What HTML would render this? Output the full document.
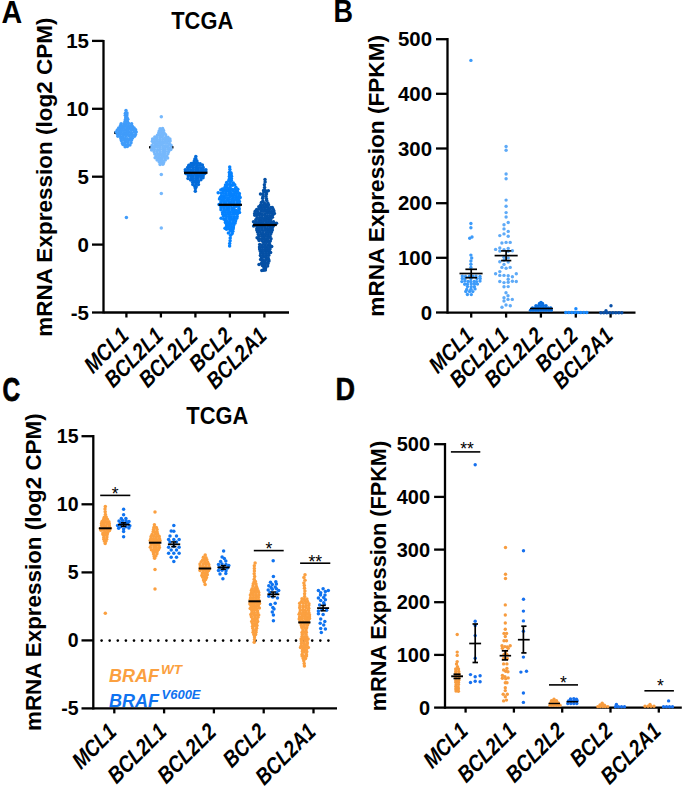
<!DOCTYPE html><html><head><meta charset="utf-8"><style>html,body{margin:0;padding:0;background:#fff;}svg{display:block;}text{font-family:"Liberation Sans", sans-serif;}</style></head><body>
<svg width="685" height="790" viewBox="0 0 685 790">
<rect width="685" height="790" fill="#fff"/>
<text x="0" y="0" font-size="31.5" font-weight="bold" text-anchor="start" fill="#000" transform="translate(1.5 22.8) scale(0.91 1.0)">A</text>
<text x="0" y="0" font-size="24.7" font-weight="bold" text-anchor="middle" fill="#000" transform="translate(202.2 28.9) scale(0.885 1.0)">TCGA</text>
<text x="51.6" y="177.2" font-size="22.5" font-weight="bold" font-style="normal" text-anchor="middle" fill="#000" transform="rotate(-90 51.6 177.2)">mRNA Expression (log2 CPM)</text>
<line x1="114" y1="132.7" x2="117" y2="132.7" stroke="#000" stroke-width="2.3"/>
<line x1="149" y1="147.3" x2="152" y2="147.3" stroke="#000" stroke-width="2.3"/>
<line x1="170.5" y1="147.3" x2="173.5" y2="147.3" stroke="#000" stroke-width="2.3"/>
<g fill="#409cfa"><circle cx="126" cy="110.5" r="1.75"/><circle cx="125.4" cy="113.3" r="1.75"/><circle cx="127" cy="112.9" r="1.75"/><circle cx="125.3" cy="115.3" r="1.75"/><circle cx="126.9" cy="115.1" r="1.75"/><circle cx="125.8" cy="117.2" r="1.75"/><circle cx="127" cy="117.5" r="1.75"/><circle cx="125.4" cy="119.5" r="1.75"/><circle cx="127.8" cy="119.2" r="1.75"/><circle cx="125" cy="121.4" r="1.75"/><circle cx="127.4" cy="121.5" r="1.75"/><circle cx="121.1" cy="123.8" r="1.75"/><circle cx="124" cy="123.7" r="1.75"/><circle cx="126.4" cy="123.4" r="1.75"/><circle cx="128.6" cy="123.5" r="1.75"/><circle cx="131.6" cy="123.7" r="1.75"/><circle cx="120.4" cy="125.8" r="1.75"/><circle cx="122.6" cy="126.1" r="1.75"/><circle cx="125.3" cy="125.7" r="1.75"/><circle cx="127.7" cy="125.9" r="1.75"/><circle cx="130.3" cy="126" r="1.75"/><circle cx="132.3" cy="126.2" r="1.75"/><circle cx="118.7" cy="128.1" r="1.75"/><circle cx="121.1" cy="127.9" r="1.75"/><circle cx="123.5" cy="128.1" r="1.75"/><circle cx="126.6" cy="128" r="1.75"/><circle cx="129.2" cy="127.8" r="1.75"/><circle cx="131.6" cy="128" r="1.75"/><circle cx="134.1" cy="127.9" r="1.75"/><circle cx="117.3" cy="130" r="1.75"/><circle cx="119.8" cy="129.7" r="1.75"/><circle cx="122.5" cy="130.2" r="1.75"/><circle cx="125.4" cy="130.3" r="1.75"/><circle cx="127.6" cy="130" r="1.75"/><circle cx="130.6" cy="129.7" r="1.75"/><circle cx="133.1" cy="129.8" r="1.75"/><circle cx="135.6" cy="129.7" r="1.75"/><circle cx="116.1" cy="132" r="1.75"/><circle cx="118.8" cy="132.4" r="1.75"/><circle cx="121.1" cy="132.1" r="1.75"/><circle cx="123.9" cy="132.4" r="1.75"/><circle cx="126.6" cy="132.4" r="1.75"/><circle cx="128.7" cy="132.1" r="1.75"/><circle cx="131.3" cy="132.4" r="1.75"/><circle cx="134.2" cy="131.9" r="1.75"/><circle cx="136.2" cy="132" r="1.75"/><circle cx="117.5" cy="134.3" r="1.75"/><circle cx="119.9" cy="133.9" r="1.75"/><circle cx="122.5" cy="134.2" r="1.75"/><circle cx="125.2" cy="134.6" r="1.75"/><circle cx="127.8" cy="134.3" r="1.75"/><circle cx="130.3" cy="134.4" r="1.75"/><circle cx="132.4" cy="134.5" r="1.75"/><circle cx="135.5" cy="134.5" r="1.75"/><circle cx="117.9" cy="136.3" r="1.75"/><circle cx="120.5" cy="136.4" r="1.75"/><circle cx="123.3" cy="136" r="1.75"/><circle cx="126.2" cy="136.1" r="1.75"/><circle cx="129.1" cy="136" r="1.75"/><circle cx="131.7" cy="136.1" r="1.75"/><circle cx="134.5" cy="136.3" r="1.75"/><circle cx="120.8" cy="138.5" r="1.75"/><circle cx="122.6" cy="138.3" r="1.75"/><circle cx="125.1" cy="138.4" r="1.75"/><circle cx="127.3" cy="138.7" r="1.75"/><circle cx="130.3" cy="138.4" r="1.75"/><circle cx="132.3" cy="138.2" r="1.75"/><circle cx="121.4" cy="140.4" r="1.75"/><circle cx="124.2" cy="140.3" r="1.75"/><circle cx="126.1" cy="140.9" r="1.75"/><circle cx="128.9" cy="140.3" r="1.75"/><circle cx="131.3" cy="140.2" r="1.75"/><circle cx="122.3" cy="142.9" r="1.75"/><circle cx="125.1" cy="142.5" r="1.75"/><circle cx="127.8" cy="142.4" r="1.75"/><circle cx="131" cy="142.7" r="1.75"/><circle cx="123" cy="144.6" r="1.75"/><circle cx="125.5" cy="145.1" r="1.75"/><circle cx="127.7" cy="145" r="1.75"/><circle cx="129.9" cy="144.9" r="1.75"/><circle cx="125.1" cy="146.7" r="1.75"/><circle cx="127.3" cy="146.5" r="1.75"/></g>
<g fill="#409cfa"><circle cx="126.4" cy="217.4" r="1.75"/></g>
<g fill="#76b8fc"><circle cx="160.1" cy="128.8" r="1.75"/><circle cx="162.6" cy="128.6" r="1.75"/><circle cx="159.2" cy="131.1" r="1.75"/><circle cx="161.2" cy="130.6" r="1.75"/><circle cx="163.5" cy="130.5" r="1.75"/><circle cx="158.7" cy="133.1" r="1.75"/><circle cx="161.5" cy="132.8" r="1.75"/><circle cx="164.1" cy="133.1" r="1.75"/><circle cx="157.4" cy="135.2" r="1.75"/><circle cx="160.1" cy="135.1" r="1.75"/><circle cx="162.6" cy="134.7" r="1.75"/><circle cx="165.6" cy="134.8" r="1.75"/><circle cx="154.8" cy="137" r="1.75"/><circle cx="157.1" cy="137.4" r="1.75"/><circle cx="160.1" cy="136.8" r="1.75"/><circle cx="162.4" cy="136.8" r="1.75"/><circle cx="165.7" cy="137.3" r="1.75"/><circle cx="167.9" cy="137.3" r="1.75"/><circle cx="152.6" cy="139" r="1.75"/><circle cx="155.1" cy="138.9" r="1.75"/><circle cx="157.2" cy="139.5" r="1.75"/><circle cx="160.1" cy="139.2" r="1.75"/><circle cx="162.9" cy="139.1" r="1.75"/><circle cx="165.3" cy="139.4" r="1.75"/><circle cx="167.4" cy="139" r="1.75"/><circle cx="169.9" cy="139" r="1.75"/><circle cx="152.3" cy="141.2" r="1.75"/><circle cx="154.7" cy="141.5" r="1.75"/><circle cx="157.4" cy="141.2" r="1.75"/><circle cx="160.1" cy="141.5" r="1.75"/><circle cx="162.5" cy="141.5" r="1.75"/><circle cx="165.1" cy="141.3" r="1.75"/><circle cx="167.6" cy="140.9" r="1.75"/><circle cx="170.1" cy="141" r="1.75"/><circle cx="153.3" cy="143.1" r="1.75"/><circle cx="155.8" cy="143.5" r="1.75"/><circle cx="158.6" cy="143.2" r="1.75"/><circle cx="161.3" cy="143.4" r="1.75"/><circle cx="164.2" cy="143.1" r="1.75"/><circle cx="166.8" cy="143.2" r="1.75"/><circle cx="169.4" cy="143.5" r="1.75"/><circle cx="152" cy="145.6" r="1.75"/><circle cx="154.9" cy="145.4" r="1.75"/><circle cx="157.4" cy="145.5" r="1.75"/><circle cx="160" cy="145.6" r="1.75"/><circle cx="162.6" cy="145.5" r="1.75"/><circle cx="165.3" cy="145.8" r="1.75"/><circle cx="168.1" cy="145.7" r="1.75"/><circle cx="171" cy="145.3" r="1.75"/><circle cx="152" cy="147.8" r="1.75"/><circle cx="154.2" cy="147.3" r="1.75"/><circle cx="157.1" cy="147.3" r="1.75"/><circle cx="159.7" cy="147.3" r="1.75"/><circle cx="162.8" cy="147.7" r="1.75"/><circle cx="165.7" cy="147.3" r="1.75"/><circle cx="168.3" cy="147.7" r="1.75"/><circle cx="170.7" cy="147.8" r="1.75"/><circle cx="151.6" cy="150" r="1.75"/><circle cx="154.5" cy="149.6" r="1.75"/><circle cx="157.6" cy="149.9" r="1.75"/><circle cx="159.7" cy="149.6" r="1.75"/><circle cx="162.7" cy="149.5" r="1.75"/><circle cx="165.1" cy="149.5" r="1.75"/><circle cx="168.2" cy="149.3" r="1.75"/><circle cx="170.8" cy="149.6" r="1.75"/><circle cx="154.1" cy="151.8" r="1.75"/><circle cx="157" cy="151.4" r="1.75"/><circle cx="160.2" cy="152" r="1.75"/><circle cx="163.1" cy="151.5" r="1.75"/><circle cx="165.4" cy="151.4" r="1.75"/><circle cx="168.6" cy="151.6" r="1.75"/><circle cx="154.8" cy="154.1" r="1.75"/><circle cx="157.6" cy="153.7" r="1.75"/><circle cx="159.8" cy="154.1" r="1.75"/><circle cx="162.6" cy="154" r="1.75"/><circle cx="164.9" cy="153.5" r="1.75"/><circle cx="167.9" cy="153.8" r="1.75"/><circle cx="156.1" cy="156" r="1.75"/><circle cx="158.7" cy="155.7" r="1.75"/><circle cx="161.5" cy="155.6" r="1.75"/><circle cx="164.3" cy="155.9" r="1.75"/><circle cx="166.7" cy="156" r="1.75"/><circle cx="155.1" cy="157.8" r="1.75"/><circle cx="157.7" cy="157.9" r="1.75"/><circle cx="159.8" cy="157.8" r="1.75"/><circle cx="162.2" cy="157.8" r="1.75"/><circle cx="164.8" cy="157.9" r="1.75"/><circle cx="167.6" cy="157.9" r="1.75"/><circle cx="157.1" cy="160" r="1.75"/><circle cx="159.6" cy="160" r="1.75"/><circle cx="162.3" cy="160.3" r="1.75"/><circle cx="165.3" cy="159.9" r="1.75"/><circle cx="159.2" cy="162" r="1.75"/><circle cx="161.5" cy="162.2" r="1.75"/><circle cx="163.7" cy="162.5" r="1.75"/><circle cx="160.1" cy="164.5" r="1.75"/><circle cx="162.9" cy="164.2" r="1.75"/></g>
<g fill="#76b8fc"><circle cx="161.3" cy="116.7" r="1.75"/><circle cx="161.3" cy="174.4" r="1.75"/><circle cx="161.3" cy="193.6" r="1.75"/><circle cx="161.3" cy="228" r="1.75"/></g>
<g fill="#056cda"><circle cx="195.8" cy="156.4" r="1.75"/><circle cx="194.9" cy="159" r="1.75"/><circle cx="195.9" cy="158.9" r="1.75"/><circle cx="194.3" cy="161.1" r="1.75"/><circle cx="196.9" cy="161" r="1.75"/><circle cx="191.2" cy="163.5" r="1.75"/><circle cx="193.1" cy="163.2" r="1.75"/><circle cx="195.5" cy="163.3" r="1.75"/><circle cx="197.7" cy="163.3" r="1.75"/><circle cx="200.1" cy="163.7" r="1.75"/><circle cx="188.8" cy="165.3" r="1.75"/><circle cx="191.8" cy="165.3" r="1.75"/><circle cx="194.1" cy="165.1" r="1.75"/><circle cx="196.9" cy="165.4" r="1.75"/><circle cx="199.7" cy="165.2" r="1.75"/><circle cx="202.4" cy="165.1" r="1.75"/><circle cx="187.6" cy="167.5" r="1.75"/><circle cx="190.2" cy="167.2" r="1.75"/><circle cx="192.9" cy="167.4" r="1.75"/><circle cx="195.7" cy="167.6" r="1.75"/><circle cx="198.3" cy="167.7" r="1.75"/><circle cx="200.9" cy="167.8" r="1.75"/><circle cx="203.2" cy="167.4" r="1.75"/><circle cx="185.3" cy="169.8" r="1.75"/><circle cx="188.2" cy="169.3" r="1.75"/><circle cx="190.8" cy="169.9" r="1.75"/><circle cx="193.2" cy="169.8" r="1.75"/><circle cx="195.8" cy="169.4" r="1.75"/><circle cx="198.1" cy="169.7" r="1.75"/><circle cx="200.8" cy="169.9" r="1.75"/><circle cx="203.3" cy="169.7" r="1.75"/><circle cx="205.9" cy="169.8" r="1.75"/><circle cx="185.5" cy="171.4" r="1.75"/><circle cx="187.9" cy="171.7" r="1.75"/><circle cx="190.3" cy="172" r="1.75"/><circle cx="193.2" cy="171.8" r="1.75"/><circle cx="195.7" cy="171.9" r="1.75"/><circle cx="198.1" cy="171.4" r="1.75"/><circle cx="200.8" cy="171.9" r="1.75"/><circle cx="203.1" cy="171.8" r="1.75"/><circle cx="205.7" cy="171.4" r="1.75"/><circle cx="185.8" cy="173.6" r="1.75"/><circle cx="188.6" cy="174" r="1.75"/><circle cx="191.3" cy="174" r="1.75"/><circle cx="194.6" cy="173.8" r="1.75"/><circle cx="196.9" cy="173.8" r="1.75"/><circle cx="199.8" cy="174" r="1.75"/><circle cx="202.5" cy="173.9" r="1.75"/><circle cx="204.9" cy="173.6" r="1.75"/><circle cx="188.2" cy="175.8" r="1.75"/><circle cx="190.6" cy="175.6" r="1.75"/><circle cx="192.8" cy="175.8" r="1.75"/><circle cx="195.7" cy="176.1" r="1.75"/><circle cx="198.3" cy="175.8" r="1.75"/><circle cx="200.7" cy="175.9" r="1.75"/><circle cx="203.2" cy="175.7" r="1.75"/><circle cx="188" cy="178.4" r="1.75"/><circle cx="191" cy="177.7" r="1.75"/><circle cx="193.1" cy="178.3" r="1.75"/><circle cx="195.9" cy="178" r="1.75"/><circle cx="197.9" cy="177.8" r="1.75"/><circle cx="200.8" cy="177.8" r="1.75"/><circle cx="203" cy="177.8" r="1.75"/><circle cx="190.6" cy="179.9" r="1.75"/><circle cx="193.2" cy="180.2" r="1.75"/><circle cx="195.9" cy="180.3" r="1.75"/><circle cx="198.1" cy="180.4" r="1.75"/><circle cx="200.9" cy="179.8" r="1.75"/><circle cx="192.7" cy="182.2" r="1.75"/><circle cx="195.5" cy="182" r="1.75"/><circle cx="198.4" cy="182.1" r="1.75"/><circle cx="192.8" cy="184.5" r="1.75"/><circle cx="195.8" cy="184.1" r="1.75"/><circle cx="198.4" cy="184.5" r="1.75"/><circle cx="194.8" cy="186.4" r="1.75"/><circle cx="196.2" cy="186.8" r="1.75"/><circle cx="195.4" cy="188.5" r="1.75"/><circle cx="195.3" cy="191.2" r="1.75"/></g>
<g fill="#0582ff"><circle cx="229.7" cy="166.9" r="1.75"/><circle cx="229.9" cy="169.6" r="1.75"/><circle cx="229.3" cy="172.4" r="1.75"/><circle cx="230.9" cy="172.7" r="1.75"/><circle cx="229.6" cy="174.8" r="1.75"/><circle cx="231.2" cy="174.1" r="1.75"/><circle cx="229.3" cy="176.4" r="1.75"/><circle cx="231.5" cy="176.3" r="1.75"/><circle cx="229.3" cy="179" r="1.75"/><circle cx="231.4" cy="178.5" r="1.75"/><circle cx="228.8" cy="180.5" r="1.75"/><circle cx="231.4" cy="180.6" r="1.75"/><circle cx="226.7" cy="182.6" r="1.75"/><circle cx="230.1" cy="182.6" r="1.75"/><circle cx="233.3" cy="182.9" r="1.75"/><circle cx="225.5" cy="185" r="1.75"/><circle cx="227.7" cy="184.6" r="1.75"/><circle cx="230.5" cy="184.7" r="1.75"/><circle cx="232.6" cy="185.2" r="1.75"/><circle cx="234.7" cy="184.8" r="1.75"/><circle cx="225" cy="187.3" r="1.75"/><circle cx="227.2" cy="187.2" r="1.75"/><circle cx="230.2" cy="187.1" r="1.75"/><circle cx="235.9" cy="187.3" r="1.75"/><circle cx="222.5" cy="188.9" r="1.75"/><circle cx="225.4" cy="189.5" r="1.75"/><circle cx="227.8" cy="189.3" r="1.75"/><circle cx="230.2" cy="188.8" r="1.75"/><circle cx="232.5" cy="189.4" r="1.75"/><circle cx="235" cy="188.9" r="1.75"/><circle cx="237.8" cy="189.3" r="1.75"/><circle cx="220.8" cy="189.9" r="1.75"/><circle cx="223" cy="190.9" r="1.75"/><circle cx="225.6" cy="191.1" r="1.75"/><circle cx="228" cy="191.1" r="1.75"/><circle cx="230.2" cy="190.9" r="1.75"/><circle cx="232.8" cy="190.9" r="1.75"/><circle cx="235.4" cy="191.4" r="1.75"/><circle cx="237.4" cy="191.2" r="1.75"/><circle cx="221.3" cy="193.3" r="1.75"/><circle cx="223.4" cy="193.2" r="1.75"/><circle cx="226" cy="193.3" r="1.75"/><circle cx="229.1" cy="193.1" r="1.75"/><circle cx="231.3" cy="193.6" r="1.75"/><circle cx="234.2" cy="193.4" r="1.75"/><circle cx="236.6" cy="193.6" r="1.75"/><circle cx="239.3" cy="193.6" r="1.75"/><circle cx="218.2" cy="192.8" r="1.75"/><circle cx="221.5" cy="195.7" r="1.75"/><circle cx="224.2" cy="195.8" r="1.75"/><circle cx="226.4" cy="195.2" r="1.75"/><circle cx="229.1" cy="195.1" r="1.75"/><circle cx="231.3" cy="195.4" r="1.75"/><circle cx="233.6" cy="195.1" r="1.75"/><circle cx="236.2" cy="195.8" r="1.75"/><circle cx="239.1" cy="195.2" r="1.75"/><circle cx="220.3" cy="197.2" r="1.75"/><circle cx="222.7" cy="197.8" r="1.75"/><circle cx="225.2" cy="197.8" r="1.75"/><circle cx="227.7" cy="197.8" r="1.75"/><circle cx="229.9" cy="197.2" r="1.75"/><circle cx="233" cy="197.4" r="1.75"/><circle cx="235.4" cy="197.4" r="1.75"/><circle cx="237.9" cy="197.6" r="1.75"/><circle cx="240.2" cy="197.4" r="1.75"/><circle cx="221.9" cy="199.7" r="1.75"/><circle cx="223.7" cy="199.5" r="1.75"/><circle cx="226.8" cy="200" r="1.75"/><circle cx="228.8" cy="199.6" r="1.75"/><circle cx="231.7" cy="199.4" r="1.75"/><circle cx="234.1" cy="199.9" r="1.75"/><circle cx="236.4" cy="199.5" r="1.75"/><circle cx="238.7" cy="199.8" r="1.75"/><circle cx="219.5" cy="199.1" r="1.75"/><circle cx="220.9" cy="201.8" r="1.75"/><circle cx="223.5" cy="201.5" r="1.75"/><circle cx="226.3" cy="201.5" r="1.75"/><circle cx="229.2" cy="202.1" r="1.75"/><circle cx="231.3" cy="201.7" r="1.75"/><circle cx="234" cy="201.8" r="1.75"/><circle cx="237" cy="201.9" r="1.75"/><circle cx="239.4" cy="201.6" r="1.75"/><circle cx="220.8" cy="203.7" r="1.75"/><circle cx="224" cy="203.6" r="1.75"/><circle cx="226.1" cy="203.7" r="1.75"/><circle cx="229" cy="203.6" r="1.75"/><circle cx="231.2" cy="203.5" r="1.75"/><circle cx="233.9" cy="203.8" r="1.75"/><circle cx="237" cy="203.7" r="1.75"/><circle cx="239.4" cy="204.1" r="1.75"/><circle cx="219" cy="204.4" r="1.75"/><circle cx="221.2" cy="206.3" r="1.75"/><circle cx="223.7" cy="206" r="1.75"/><circle cx="226.2" cy="205.7" r="1.75"/><circle cx="228.7" cy="206" r="1.75"/><circle cx="231.3" cy="205.6" r="1.75"/><circle cx="234.3" cy="205.7" r="1.75"/><circle cx="236.6" cy="206.2" r="1.75"/><circle cx="239.1" cy="205.7" r="1.75"/><circle cx="221" cy="207.8" r="1.75"/><circle cx="223.8" cy="207.9" r="1.75"/><circle cx="226.7" cy="207.9" r="1.75"/><circle cx="228.8" cy="208" r="1.75"/><circle cx="231.8" cy="208" r="1.75"/><circle cx="234.2" cy="207.8" r="1.75"/><circle cx="239" cy="208.3" r="1.75"/><circle cx="221" cy="209.8" r="1.75"/><circle cx="223.9" cy="210.4" r="1.75"/><circle cx="226.5" cy="210.1" r="1.75"/><circle cx="228.7" cy="210" r="1.75"/><circle cx="231.8" cy="209.9" r="1.75"/><circle cx="234.2" cy="210.5" r="1.75"/><circle cx="236.3" cy="210.5" r="1.75"/><circle cx="239.1" cy="209.8" r="1.75"/><circle cx="222.6" cy="212.5" r="1.75"/><circle cx="225.3" cy="212.1" r="1.75"/><circle cx="227.9" cy="212.5" r="1.75"/><circle cx="230" cy="212.2" r="1.75"/><circle cx="232.7" cy="212" r="1.75"/><circle cx="235.5" cy="212.5" r="1.75"/><circle cx="237.9" cy="212.4" r="1.75"/><circle cx="239.5" cy="212.4" r="1.75"/><circle cx="222.8" cy="214.3" r="1.75"/><circle cx="225.3" cy="214.5" r="1.75"/><circle cx="227.7" cy="214" r="1.75"/><circle cx="230.2" cy="214.2" r="1.75"/><circle cx="232.8" cy="214.3" r="1.75"/><circle cx="235" cy="214.1" r="1.75"/><circle cx="237.4" cy="214.1" r="1.75"/><circle cx="223.7" cy="216.2" r="1.75"/><circle cx="226.4" cy="216.5" r="1.75"/><circle cx="228.9" cy="216.4" r="1.75"/><circle cx="231.3" cy="216.7" r="1.75"/><circle cx="234.3" cy="216.7" r="1.75"/><circle cx="237.2" cy="216.4" r="1.75"/><circle cx="223.7" cy="218.9" r="1.75"/><circle cx="226.1" cy="218.7" r="1.75"/><circle cx="229.1" cy="218.4" r="1.75"/><circle cx="231.3" cy="218.6" r="1.75"/><circle cx="234" cy="218.4" r="1.75"/><circle cx="236.7" cy="218.2" r="1.75"/><circle cx="221.1" cy="218.2" r="1.75"/><circle cx="225.3" cy="220.5" r="1.75"/><circle cx="227.3" cy="220.9" r="1.75"/><circle cx="230.2" cy="220.7" r="1.75"/><circle cx="233" cy="220.5" r="1.75"/><circle cx="235.6" cy="220.8" r="1.75"/><circle cx="225.4" cy="222.6" r="1.75"/><circle cx="227.7" cy="222.8" r="1.75"/><circle cx="230.1" cy="222.8" r="1.75"/><circle cx="232.8" cy="223" r="1.75"/><circle cx="235.1" cy="222.9" r="1.75"/><circle cx="226.5" cy="224.8" r="1.75"/><circle cx="228.6" cy="224.8" r="1.75"/><circle cx="231.1" cy="224.5" r="1.75"/><circle cx="233.8" cy="224.9" r="1.75"/><circle cx="226.5" cy="226.9" r="1.75"/><circle cx="228.8" cy="226.6" r="1.75"/><circle cx="231.5" cy="226.9" r="1.75"/><circle cx="233.4" cy="227.1" r="1.75"/><circle cx="226.5" cy="229.3" r="1.75"/><circle cx="229.1" cy="229.1" r="1.75"/><circle cx="231.3" cy="229" r="1.75"/><circle cx="233.2" cy="228.7" r="1.75"/><circle cx="225" cy="228.3" r="1.75"/><circle cx="230.5" cy="230.9" r="1.75"/><circle cx="232.8" cy="231.2" r="1.75"/><circle cx="228.4" cy="233.1" r="1.75"/><circle cx="232.2" cy="233.4" r="1.75"/><circle cx="230.6" cy="235.3" r="1.75"/><circle cx="230.2" cy="238" r="1.75"/><circle cx="230.1" cy="240.7" r="1.75"/><circle cx="229.7" cy="243.4" r="1.75"/><circle cx="229.6" cy="246.1" r="1.75"/></g>
<g fill="#0550a5"><circle cx="265" cy="179.4" r="1.75"/><circle cx="265.1" cy="182.1" r="1.75"/><circle cx="264.4" cy="184.8" r="1.75"/><circle cx="264.6" cy="187.5" r="1.75"/><circle cx="263.7" cy="190.3" r="1.75"/><circle cx="265.3" cy="190.5" r="1.75"/><circle cx="268.3" cy="190.8" r="1.75"/><circle cx="263.7" cy="192.1" r="1.75"/><circle cx="266.1" cy="192.3" r="1.75"/><circle cx="263.1" cy="194.5" r="1.75"/><circle cx="266.5" cy="194.1" r="1.75"/><circle cx="260.5" cy="194.1" r="1.75"/><circle cx="262.9" cy="196.8" r="1.75"/><circle cx="265.9" cy="196.3" r="1.75"/><circle cx="262.7" cy="198.3" r="1.75"/><circle cx="266.5" cy="198.8" r="1.75"/><circle cx="262.9" cy="201" r="1.75"/><circle cx="266.7" cy="200.4" r="1.75"/><circle cx="261.4" cy="202.6" r="1.75"/><circle cx="264.4" cy="203.1" r="1.75"/><circle cx="267.8" cy="203.1" r="1.75"/><circle cx="260.5" cy="205.1" r="1.75"/><circle cx="263.3" cy="204.9" r="1.75"/><circle cx="265.8" cy="204.8" r="1.75"/><circle cx="268.5" cy="204.8" r="1.75"/><circle cx="258.8" cy="206.7" r="1.75"/><circle cx="261.1" cy="207.2" r="1.75"/><circle cx="263.6" cy="207.1" r="1.75"/><circle cx="266.2" cy="206.8" r="1.75"/><circle cx="268.1" cy="206.7" r="1.75"/><circle cx="270.9" cy="207.4" r="1.75"/><circle cx="272.3" cy="207.4" r="1.75"/><circle cx="256.7" cy="209.5" r="1.75"/><circle cx="259.4" cy="208.9" r="1.75"/><circle cx="262.3" cy="209" r="1.75"/><circle cx="265" cy="209.3" r="1.75"/><circle cx="267.7" cy="209.2" r="1.75"/><circle cx="270" cy="208.9" r="1.75"/><circle cx="273.1" cy="209.3" r="1.75"/><circle cx="255.2" cy="211.2" r="1.75"/><circle cx="257.7" cy="211.6" r="1.75"/><circle cx="261" cy="211" r="1.75"/><circle cx="263.5" cy="211.3" r="1.75"/><circle cx="266.1" cy="211.3" r="1.75"/><circle cx="268.7" cy="211.3" r="1.75"/><circle cx="271.4" cy="211.4" r="1.75"/><circle cx="273.9" cy="211.1" r="1.75"/><circle cx="254.7" cy="213.5" r="1.75"/><circle cx="257.4" cy="213.5" r="1.75"/><circle cx="259.9" cy="213.4" r="1.75"/><circle cx="262" cy="213.7" r="1.75"/><circle cx="265" cy="213.7" r="1.75"/><circle cx="267.3" cy="213.1" r="1.75"/><circle cx="269.4" cy="213.2" r="1.75"/><circle cx="272" cy="213.1" r="1.75"/><circle cx="274.4" cy="213.6" r="1.75"/><circle cx="256.9" cy="215.3" r="1.75"/><circle cx="259.4" cy="215.1" r="1.75"/><circle cx="262.3" cy="215.1" r="1.75"/><circle cx="264.9" cy="215.6" r="1.75"/><circle cx="267.4" cy="215.7" r="1.75"/><circle cx="270" cy="215.7" r="1.75"/><circle cx="272.5" cy="215.3" r="1.75"/><circle cx="254.8" cy="215.2" r="1.75"/><circle cx="257" cy="217.7" r="1.75"/><circle cx="259.7" cy="217.4" r="1.75"/><circle cx="262.1" cy="217.6" r="1.75"/><circle cx="264.8" cy="217.9" r="1.75"/><circle cx="267.4" cy="217.7" r="1.75"/><circle cx="269.8" cy="217.9" r="1.75"/><circle cx="272.4" cy="217.3" r="1.75"/><circle cx="255.8" cy="219.7" r="1.75"/><circle cx="258.7" cy="219.7" r="1.75"/><circle cx="261.2" cy="219.7" r="1.75"/><circle cx="263.8" cy="219.4" r="1.75"/><circle cx="265.9" cy="219.8" r="1.75"/><circle cx="268.7" cy="219.5" r="1.75"/><circle cx="270.7" cy="219.6" r="1.75"/><circle cx="256.1" cy="221.6" r="1.75"/><circle cx="258.8" cy="222.1" r="1.75"/><circle cx="260.8" cy="222" r="1.75"/><circle cx="263.3" cy="221.5" r="1.75"/><circle cx="266.1" cy="221.8" r="1.75"/><circle cx="268.4" cy="221.6" r="1.75"/><circle cx="270.7" cy="221.8" r="1.75"/><circle cx="273.5" cy="221.7" r="1.75"/><circle cx="253.5" cy="221.7" r="1.75"/><circle cx="254.9" cy="224" r="1.75"/><circle cx="257.4" cy="223.8" r="1.75"/><circle cx="260" cy="223.8" r="1.75"/><circle cx="262.1" cy="223.8" r="1.75"/><circle cx="264.4" cy="224.1" r="1.75"/><circle cx="267" cy="223.8" r="1.75"/><circle cx="269.7" cy="223.7" r="1.75"/><circle cx="272.1" cy="223.7" r="1.75"/><circle cx="274.7" cy="223.6" r="1.75"/><circle cx="276.5" cy="223.2" r="1.75"/><circle cx="256.6" cy="225.8" r="1.75"/><circle cx="259.4" cy="226.2" r="1.75"/><circle cx="262.2" cy="226" r="1.75"/><circle cx="264.8" cy="226.2" r="1.75"/><circle cx="267.7" cy="225.7" r="1.75"/><circle cx="270.3" cy="226.1" r="1.75"/><circle cx="273.3" cy="226" r="1.75"/><circle cx="253.6" cy="225.9" r="1.75"/><circle cx="257" cy="228.2" r="1.75"/><circle cx="259.2" cy="228.1" r="1.75"/><circle cx="261.8" cy="227.9" r="1.75"/><circle cx="264.7" cy="227.9" r="1.75"/><circle cx="267.3" cy="228.4" r="1.75"/><circle cx="269.8" cy="228" r="1.75"/><circle cx="272.3" cy="227.7" r="1.75"/><circle cx="256.8" cy="230.1" r="1.75"/><circle cx="259.3" cy="229.9" r="1.75"/><circle cx="261.9" cy="229.9" r="1.75"/><circle cx="264.6" cy="230.3" r="1.75"/><circle cx="267.5" cy="230" r="1.75"/><circle cx="269.6" cy="229.8" r="1.75"/><circle cx="272.3" cy="230.1" r="1.75"/><circle cx="257.5" cy="232" r="1.75"/><circle cx="260.2" cy="232" r="1.75"/><circle cx="263" cy="232.6" r="1.75"/><circle cx="266.5" cy="232.2" r="1.75"/><circle cx="268.9" cy="232.3" r="1.75"/><circle cx="271.5" cy="231.9" r="1.75"/><circle cx="258.3" cy="234.4" r="1.75"/><circle cx="261" cy="234.1" r="1.75"/><circle cx="263.6" cy="234.6" r="1.75"/><circle cx="265.6" cy="234.4" r="1.75"/><circle cx="268.1" cy="234.5" r="1.75"/><circle cx="270.7" cy="234.1" r="1.75"/><circle cx="259.4" cy="236.3" r="1.75"/><circle cx="262.4" cy="236.2" r="1.75"/><circle cx="264.4" cy="236.5" r="1.75"/><circle cx="267.5" cy="236.4" r="1.75"/><circle cx="270" cy="236.6" r="1.75"/><circle cx="258.5" cy="238.7" r="1.75"/><circle cx="261.5" cy="238.7" r="1.75"/><circle cx="263.7" cy="238.6" r="1.75"/><circle cx="265.9" cy="238.8" r="1.75"/><circle cx="268.2" cy="238.2" r="1.75"/><circle cx="271" cy="238.8" r="1.75"/><circle cx="257.1" cy="237.8" r="1.75"/><circle cx="259.1" cy="240.4" r="1.75"/><circle cx="262" cy="240.8" r="1.75"/><circle cx="264.9" cy="240.4" r="1.75"/><circle cx="267.7" cy="240.6" r="1.75"/><circle cx="270.3" cy="241" r="1.75"/><circle cx="263.5" cy="242.5" r="1.75"/><circle cx="266.3" cy="242.5" r="1.75"/><circle cx="269.1" cy="242.4" r="1.75"/><circle cx="259.7" cy="244.6" r="1.75"/><circle cx="262" cy="245" r="1.75"/><circle cx="264.6" cy="244.8" r="1.75"/><circle cx="267.6" cy="245" r="1.75"/><circle cx="269.7" cy="244.5" r="1.75"/><circle cx="259.5" cy="247" r="1.75"/><circle cx="262.4" cy="247" r="1.75"/><circle cx="264.6" cy="247.2" r="1.75"/><circle cx="267.4" cy="247" r="1.75"/><circle cx="270" cy="246.8" r="1.75"/><circle cx="271.7" cy="246.4" r="1.75"/><circle cx="259.6" cy="248.9" r="1.75"/><circle cx="262.3" cy="249.4" r="1.75"/><circle cx="265" cy="249.3" r="1.75"/><circle cx="267.5" cy="249" r="1.75"/><circle cx="270" cy="249" r="1.75"/><circle cx="260.2" cy="251" r="1.75"/><circle cx="262.2" cy="251.3" r="1.75"/><circle cx="264.8" cy="250.8" r="1.75"/><circle cx="267.2" cy="251.2" r="1.75"/><circle cx="269.3" cy="251.1" r="1.75"/><circle cx="260.8" cy="253.3" r="1.75"/><circle cx="263.2" cy="253" r="1.75"/><circle cx="265.8" cy="253.3" r="1.75"/><circle cx="268.7" cy="253.5" r="1.75"/><circle cx="270.6" cy="252.6" r="1.75"/><circle cx="260.4" cy="255.4" r="1.75"/><circle cx="263.4" cy="255" r="1.75"/><circle cx="266.4" cy="255.6" r="1.75"/><circle cx="268.8" cy="255.2" r="1.75"/><circle cx="261.5" cy="257.7" r="1.75"/><circle cx="263.4" cy="257.1" r="1.75"/><circle cx="265.6" cy="257.2" r="1.75"/><circle cx="268.1" cy="257.7" r="1.75"/><circle cx="260.6" cy="259.6" r="1.75"/><circle cx="263.2" cy="259.9" r="1.75"/><circle cx="266" cy="259.6" r="1.75"/><circle cx="268.6" cy="259.5" r="1.75"/><circle cx="262.4" cy="261.5" r="1.75"/><circle cx="264.5" cy="261.5" r="1.75"/><circle cx="267.7" cy="261.9" r="1.75"/><circle cx="269" cy="261.1" r="1.75"/><circle cx="261.3" cy="263.6" r="1.75"/><circle cx="263.7" cy="263.5" r="1.75"/><circle cx="265.7" cy="263.5" r="1.75"/><circle cx="268" cy="263.6" r="1.75"/><circle cx="259" cy="264.4" r="1.75"/><circle cx="262.3" cy="265.6" r="1.75"/><circle cx="264.6" cy="266" r="1.75"/><circle cx="267.6" cy="266.1" r="1.75"/><circle cx="263.9" cy="267.8" r="1.75"/><circle cx="265.6" cy="267.9" r="1.75"/><circle cx="263.7" cy="270.3" r="1.75"/><circle cx="265.4" cy="270" r="1.75"/><circle cx="261.8" cy="270.6" r="1.75"/></g>
<line x1="184" y1="172.8" x2="207.5" y2="172.8" stroke="#000" stroke-width="2.2"/>
<line x1="218.5" y1="204.8" x2="242" y2="204.8" stroke="#000" stroke-width="2.2"/>
<line x1="253" y1="225" x2="276.8" y2="225" stroke="#000" stroke-width="2.2"/>
<line x1="103.5" y1="39.9" x2="103.5" y2="313.6" stroke="#000" stroke-width="2.3"/>
<line x1="103.5" y1="312.5" x2="289" y2="312.5" stroke="#000" stroke-width="2.3"/>
<line x1="92" y1="40.9" x2="103.5" y2="40.9" stroke="#000" stroke-width="2.3"/>
<text x="89" y="48.1" font-size="20.5" font-weight="bold" font-style="normal" text-anchor="end" fill="#000">15</text>
<line x1="92" y1="108.8" x2="103.5" y2="108.8" stroke="#000" stroke-width="2.3"/>
<text x="89" y="116" font-size="20.5" font-weight="bold" font-style="normal" text-anchor="end" fill="#000">10</text>
<line x1="92" y1="176.7" x2="103.5" y2="176.7" stroke="#000" stroke-width="2.3"/>
<text x="89" y="183.9" font-size="20.5" font-weight="bold" font-style="normal" text-anchor="end" fill="#000">5</text>
<line x1="92" y1="244.6" x2="103.5" y2="244.6" stroke="#000" stroke-width="2.3"/>
<text x="89" y="251.8" font-size="20.5" font-weight="bold" font-style="normal" text-anchor="end" fill="#000">0</text>
<line x1="92" y1="312.5" x2="103.5" y2="312.5" stroke="#000" stroke-width="2.3"/>
<text x="89" y="319.7" font-size="20.5" font-weight="bold" font-style="normal" text-anchor="end" fill="#000">-5</text>
<line x1="126.4" y1="312.5" x2="126.4" y2="317.5" stroke="#000" stroke-width="2.3"/>
<line x1="160.9" y1="312.5" x2="160.9" y2="317.5" stroke="#000" stroke-width="2.3"/>
<line x1="195.4" y1="312.5" x2="195.4" y2="317.5" stroke="#000" stroke-width="2.3"/>
<line x1="229.9" y1="312.5" x2="229.9" y2="317.5" stroke="#000" stroke-width="2.3"/>
<line x1="264.4" y1="312.5" x2="264.4" y2="317.5" stroke="#000" stroke-width="2.3"/>
<text x="0" y="0" font-size="20" font-weight="bold" font-style="italic" text-anchor="end" fill="#000" transform="translate(130 337.5) rotate(-45) scale(0.96 1.14) skewX(-3)">MCL1</text>
<text x="0" y="0" font-size="20" font-weight="bold" font-style="italic" text-anchor="end" fill="#000" transform="translate(164.5 337.5) rotate(-45) scale(0.96 1.14) skewX(-3)">BCL2L1</text>
<text x="0" y="0" font-size="20" font-weight="bold" font-style="italic" text-anchor="end" fill="#000" transform="translate(199 337.5) rotate(-45) scale(0.96 1.14) skewX(-3)">BCL2L2</text>
<text x="0" y="0" font-size="20" font-weight="bold" font-style="italic" text-anchor="end" fill="#000" transform="translate(233.5 337.5) rotate(-45) scale(0.96 1.14) skewX(-3)">BCL2</text>
<text x="0" y="0" font-size="20" font-weight="bold" font-style="italic" text-anchor="end" fill="#000" transform="translate(268 337.5) rotate(-45) scale(0.96 1.14) skewX(-3)">BCL2A1</text>
<text x="0" y="0" font-size="31" font-weight="bold" text-anchor="start" fill="#000" transform="translate(333.6 22.3) scale(0.87 1.0)">B</text>
<line x1="447.5" y1="38.1" x2="447.5" y2="313.8" stroke="#000" stroke-width="2.3"/>
<line x1="447.5" y1="312.6" x2="635.5" y2="312.6" stroke="#000" stroke-width="2.3"/>
<line x1="436" y1="39.2" x2="447.5" y2="39.2" stroke="#000" stroke-width="2.3"/>
<text x="432" y="46.3" font-size="20.4" font-weight="bold" font-style="normal" text-anchor="end" fill="#000">500</text>
<line x1="436" y1="93.8" x2="447.5" y2="93.8" stroke="#000" stroke-width="2.3"/>
<text x="432" y="101" font-size="20.4" font-weight="bold" font-style="normal" text-anchor="end" fill="#000">400</text>
<line x1="436" y1="148.5" x2="447.5" y2="148.5" stroke="#000" stroke-width="2.3"/>
<text x="432" y="155.6" font-size="20.4" font-weight="bold" font-style="normal" text-anchor="end" fill="#000">300</text>
<line x1="436" y1="203.2" x2="447.5" y2="203.2" stroke="#000" stroke-width="2.3"/>
<text x="432" y="210.3" font-size="20.4" font-weight="bold" font-style="normal" text-anchor="end" fill="#000">200</text>
<line x1="436" y1="257.8" x2="447.5" y2="257.8" stroke="#000" stroke-width="2.3"/>
<text x="432" y="265" font-size="20.4" font-weight="bold" font-style="normal" text-anchor="end" fill="#000">100</text>
<line x1="436" y1="312.5" x2="447.5" y2="312.5" stroke="#000" stroke-width="2.3"/>
<text x="432" y="319.6" font-size="20.4" font-weight="bold" font-style="normal" text-anchor="end" fill="#000">0</text>
<line x1="471.2" y1="312.6" x2="471.2" y2="317.6" stroke="#000" stroke-width="2.3"/>
<line x1="506.1" y1="312.6" x2="506.1" y2="317.6" stroke="#000" stroke-width="2.3"/>
<line x1="540.9" y1="312.6" x2="540.9" y2="317.6" stroke="#000" stroke-width="2.3"/>
<line x1="575.8" y1="312.6" x2="575.8" y2="317.6" stroke="#000" stroke-width="2.3"/>
<line x1="610.6" y1="312.6" x2="610.6" y2="317.6" stroke="#000" stroke-width="2.3"/>
<text x="384.2" y="175.8" font-size="22.6" font-weight="bold" font-style="normal" text-anchor="middle" fill="#000" transform="rotate(-90 384.2 175.8)">mRNA Expression (FPKM)</text>
<g fill="#5eaaf7"><circle cx="506.1" cy="146.5" r="1.7"/><circle cx="506.1" cy="150.2" r="1.7"/><circle cx="506.1" cy="174" r="1.7"/><circle cx="506.1" cy="178.8" r="1.7"/><circle cx="506.1" cy="200.1" r="1.7"/><circle cx="506.1" cy="206.3" r="1.7"/><circle cx="506.1" cy="212.6" r="1.7"/><circle cx="506.1" cy="217" r="1.7"/><circle cx="508.2" cy="222.5" r="1.7"/><circle cx="504" cy="224.8" r="1.7"/><circle cx="504" cy="228.9" r="1.7"/><circle cx="508.2" cy="231.4" r="1.7"/><circle cx="504" cy="233.9" r="1.7"/><circle cx="499.8" cy="235.6" r="1.7"/><circle cx="508.2" cy="236.2" r="1.7"/><circle cx="501.9" cy="243" r="1.7"/><circle cx="506.1" cy="242.4" r="1.7"/><circle cx="510.2" cy="242.4" r="1.7"/><circle cx="495.6" cy="249.4" r="1.7"/><circle cx="499.8" cy="248" r="1.7"/><circle cx="499.8" cy="251.1" r="1.7"/><circle cx="504" cy="249.7" r="1.7"/><circle cx="508.2" cy="248.4" r="1.7"/><circle cx="508.2" cy="251.2" r="1.7"/><circle cx="512.4" cy="250.7" r="1.7"/><circle cx="504" cy="257.2" r="1.7"/><circle cx="508.2" cy="257.9" r="1.7"/><circle cx="504" cy="260.2" r="1.7"/><circle cx="499.8" cy="261.7" r="1.7"/><circle cx="508.2" cy="262.1" r="1.7"/><circle cx="504" cy="264.4" r="1.7"/><circle cx="501.9" cy="267.4" r="1.7"/><circle cx="506.1" cy="268.2" r="1.7"/><circle cx="510.2" cy="267.4" r="1.7"/><circle cx="499.8" cy="271.6" r="1.7"/><circle cx="495.6" cy="273.7" r="1.7"/><circle cx="516.3" cy="273.7" r="1.7"/><circle cx="499.8" cy="275.4" r="1.7"/><circle cx="504" cy="275.4" r="1.7"/><circle cx="508.2" cy="275.8" r="1.7"/><circle cx="512.4" cy="276.8" r="1.7"/><circle cx="508.2" cy="279.2" r="1.7"/><circle cx="499.8" cy="281.5" r="1.7"/><circle cx="504" cy="282.6" r="1.7"/><circle cx="508.2" cy="282.2" r="1.7"/><circle cx="512.4" cy="281.3" r="1.7"/><circle cx="516.3" cy="281.5" r="1.7"/><circle cx="504" cy="286.8" r="1.7"/><circle cx="508.2" cy="286.6" r="1.7"/><circle cx="506" cy="292.8" r="1.7"/><circle cx="508" cy="295.8" r="1.7"/><circle cx="504" cy="297.7" r="1.7"/><circle cx="508" cy="299.4" r="1.7"/><circle cx="512.3" cy="299.4" r="1.7"/><circle cx="504" cy="301" r="1.7"/><circle cx="506" cy="305" r="1.7"/><circle cx="510.3" cy="305.8" r="1.7"/><circle cx="502" cy="307.3" r="1.7"/></g>
<g fill="#3c9bfa"><circle cx="470.9" cy="60.4" r="1.7"/><circle cx="470.9" cy="223.5" r="1.7"/><circle cx="470.9" cy="227.8" r="1.7"/><circle cx="469.7" cy="238.3" r="1.7"/><circle cx="472" cy="237" r="1.7"/><circle cx="470.9" cy="255.1" r="1.7"/><circle cx="471.7" cy="258" r="1.7"/><circle cx="470.9" cy="261" r="1.7"/><circle cx="470.9" cy="264.2" r="1.7"/><circle cx="470.9" cy="267.4" r="1.7"/></g>
<g fill="#3c9bfa"><circle cx="462.3" cy="276.1" r="1.7"/><circle cx="465.5" cy="276.5" r="1.7"/><circle cx="469.5" cy="276.3" r="1.7"/><circle cx="472.7" cy="276.1" r="1.7"/><circle cx="476" cy="276.1" r="1.7"/><circle cx="480" cy="276.5" r="1.7"/><circle cx="462.3" cy="278.5" r="1.7"/><circle cx="464.9" cy="279.1" r="1.7"/><circle cx="470.9" cy="278.5" r="1.7"/><circle cx="477" cy="278.6" r="1.7"/><circle cx="480.2" cy="278.6" r="1.7"/><circle cx="461.9" cy="281.6" r="1.7"/><circle cx="464.9" cy="281.1" r="1.7"/><circle cx="468.1" cy="281.4" r="1.7"/><circle cx="470.8" cy="281.5" r="1.7"/><circle cx="474.2" cy="281.5" r="1.7"/><circle cx="476.6" cy="281.6" r="1.7"/><circle cx="480" cy="281.1" r="1.7"/><circle cx="464.7" cy="284.3" r="1.7"/><circle cx="467.4" cy="284.3" r="1.7"/><circle cx="471.3" cy="283.8" r="1.7"/><circle cx="474.5" cy="283.9" r="1.7"/><circle cx="477.5" cy="284.1" r="1.7"/><circle cx="467.5" cy="286.6" r="1.7"/><circle cx="471.2" cy="286.8" r="1.7"/><circle cx="474.4" cy="286.7" r="1.7"/><circle cx="466.7" cy="289.5" r="1.7"/><circle cx="471" cy="289.2" r="1.7"/><circle cx="475" cy="288.9" r="1.7"/><circle cx="465.8" cy="291.5" r="1.7"/><circle cx="469.6" cy="291.5" r="1.7"/><circle cx="472.8" cy="291.6" r="1.7"/><circle cx="467.4" cy="294.5" r="1.7"/><circle cx="471.3" cy="294.6" r="1.7"/></g>
<g fill="#0a6fe0"><circle cx="530.5" cy="310.3" r="1.7"/><circle cx="533.1" cy="310.3" r="1.7"/><circle cx="535.7" cy="310.3" r="1.7"/><circle cx="538.3" cy="310.3" r="1.7"/><circle cx="540.9" cy="310.3" r="1.7"/><circle cx="543.5" cy="310.3" r="1.7"/><circle cx="546.1" cy="310.3" r="1.7"/><circle cx="548.7" cy="310.3" r="1.7"/><circle cx="551.3" cy="310.3" r="1.7"/><circle cx="532.5" cy="308" r="1.7"/><circle cx="535.1" cy="308" r="1.7"/><circle cx="537.7" cy="308" r="1.7"/><circle cx="540.3" cy="308" r="1.7"/><circle cx="542.9" cy="308" r="1.7"/><circle cx="545.5" cy="308" r="1.7"/><circle cx="548.1" cy="308" r="1.7"/><circle cx="550.7" cy="308" r="1.7"/><circle cx="536" cy="305.6" r="1.7"/><circle cx="538.5" cy="305.6" r="1.7"/><circle cx="541" cy="305.6" r="1.7"/><circle cx="543.5" cy="305.6" r="1.7"/><circle cx="546" cy="305.6" r="1.7"/><circle cx="539.5" cy="303.5" r="1.7"/><circle cx="542.5" cy="303.5" r="1.7"/><circle cx="541" cy="302.5" r="1.7"/></g>
<g fill="#1a8aff"><circle cx="565.8" cy="312.5" r="1.7"/><circle cx="568.8" cy="312.5" r="1.7"/><circle cx="571.8" cy="312.5" r="1.7"/><circle cx="574.8" cy="312.5" r="1.7"/><circle cx="577.8" cy="312.5" r="1.7"/><circle cx="580.8" cy="312.5" r="1.7"/><circle cx="583.8" cy="312.5" r="1.7"/><circle cx="586.8" cy="312.5" r="1.7"/><circle cx="575.9" cy="308.8" r="1.7"/></g>
<g fill="#0a50a8"><circle cx="600.8" cy="312.8" r="1.7"/><circle cx="603.8" cy="312.8" r="1.7"/><circle cx="606.8" cy="312.8" r="1.7"/><circle cx="609.8" cy="312.8" r="1.7"/><circle cx="612.8" cy="312.8" r="1.7"/><circle cx="615.8" cy="312.8" r="1.7"/><circle cx="618.8" cy="312.8" r="1.7"/><circle cx="621.8" cy="312.8" r="1.7"/><circle cx="611" cy="305.8" r="1.7"/><circle cx="606" cy="310.8" r="1.7"/></g>
<line x1="459.5" y1="273.5" x2="482.6" y2="273.5" stroke="#000" stroke-width="1.7"/>
<line x1="465.4" y1="269.3" x2="477" y2="269.3" stroke="#000" stroke-width="1.7"/>
<line x1="465.4" y1="277.7" x2="477" y2="277.7" stroke="#000" stroke-width="1.7"/>
<line x1="471.2" y1="269.3" x2="471.2" y2="277.7" stroke="#000" stroke-width="1.7"/>
<line x1="494.6" y1="255.6" x2="517.7" y2="255.6" stroke="#000" stroke-width="1.7"/>
<line x1="501.1" y1="250.9" x2="511.3" y2="250.9" stroke="#000" stroke-width="1.7"/>
<line x1="501.1" y1="260.6" x2="511.3" y2="260.6" stroke="#000" stroke-width="1.7"/>
<line x1="506.1" y1="250.9" x2="506.1" y2="260.6" stroke="#000" stroke-width="1.7"/>
<line x1="530" y1="308.5" x2="553" y2="308.5" stroke="#000" stroke-width="1.6"/>
<text x="0" y="0" font-size="20" font-weight="bold" font-style="italic" text-anchor="end" fill="#000" transform="translate(474.8 337.5) rotate(-45) scale(0.96 1.14) skewX(-3)">MCL1</text>
<text x="0" y="0" font-size="20" font-weight="bold" font-style="italic" text-anchor="end" fill="#000" transform="translate(509.7 337.5) rotate(-45) scale(0.96 1.14) skewX(-3)">BCL2L1</text>
<text x="0" y="0" font-size="20" font-weight="bold" font-style="italic" text-anchor="end" fill="#000" transform="translate(544.5 337.5) rotate(-45) scale(0.96 1.14) skewX(-3)">BCL2L2</text>
<text x="0" y="0" font-size="20" font-weight="bold" font-style="italic" text-anchor="end" fill="#000" transform="translate(579.4 337.5) rotate(-45) scale(0.96 1.14) skewX(-3)">BCL2</text>
<text x="0" y="0" font-size="20" font-weight="bold" font-style="italic" text-anchor="end" fill="#000" transform="translate(614.2 337.5) rotate(-45) scale(0.96 1.14) skewX(-3)">BCL2A1</text>
<text x="0" y="0" font-size="33" font-weight="bold" text-anchor="start" fill="#000" stroke="#000" stroke-width="0.8" transform="translate(2.6 400.6) scale(0.74 1.0)">C</text>
<text x="0" y="0" font-size="24.7" font-weight="bold" text-anchor="middle" fill="#000" transform="translate(217.3 424.4) scale(0.885 1.0)">TCGA</text>
<text x="41.5" y="572.2" font-size="22.4" font-weight="bold" font-style="normal" text-anchor="middle" fill="#000" transform="rotate(-90 41.5 572.2)">mRNA Expression (log2 CPM)</text>
<g fill="#000"><circle cx="101.6" cy="640.6" r="1.3"/><circle cx="109.7" cy="640.6" r="1.3"/><circle cx="117.8" cy="640.6" r="1.3"/><circle cx="125.9" cy="640.6" r="1.3"/><circle cx="134" cy="640.6" r="1.3"/><circle cx="142.1" cy="640.6" r="1.3"/><circle cx="150.2" cy="640.6" r="1.3"/><circle cx="158.3" cy="640.6" r="1.3"/><circle cx="166.4" cy="640.6" r="1.3"/><circle cx="174.5" cy="640.6" r="1.3"/><circle cx="182.6" cy="640.6" r="1.3"/><circle cx="190.7" cy="640.6" r="1.3"/><circle cx="198.8" cy="640.6" r="1.3"/><circle cx="206.9" cy="640.6" r="1.3"/><circle cx="215" cy="640.6" r="1.3"/><circle cx="223.1" cy="640.6" r="1.3"/><circle cx="231.2" cy="640.6" r="1.3"/><circle cx="239.3" cy="640.6" r="1.3"/><circle cx="247.4" cy="640.6" r="1.3"/><circle cx="255.5" cy="640.6" r="1.3"/><circle cx="263.6" cy="640.6" r="1.3"/><circle cx="271.7" cy="640.6" r="1.3"/><circle cx="279.8" cy="640.6" r="1.3"/><circle cx="287.9" cy="640.6" r="1.3"/><circle cx="296" cy="640.6" r="1.3"/><circle cx="304.1" cy="640.6" r="1.3"/><circle cx="312.2" cy="640.6" r="1.3"/><circle cx="320.3" cy="640.6" r="1.3"/><circle cx="328.4" cy="640.6" r="1.3"/></g>
<g fill="#fba040"><circle cx="105.3" cy="506.4" r="1.75"/><circle cx="105" cy="509.1" r="1.75"/><circle cx="105.2" cy="511.8" r="1.75"/><circle cx="105.4" cy="514.5" r="1.75"/><circle cx="104.3" cy="517.2" r="1.75"/><circle cx="106.2" cy="516.9" r="1.75"/><circle cx="103.7" cy="519.3" r="1.75"/><circle cx="105.2" cy="519.6" r="1.75"/><circle cx="107.3" cy="519.3" r="1.75"/><circle cx="102.1" cy="521.4" r="1.75"/><circle cx="104" cy="521.4" r="1.75"/><circle cx="106.4" cy="521.9" r="1.75"/><circle cx="108.9" cy="521.8" r="1.75"/><circle cx="101.5" cy="523.4" r="1.75"/><circle cx="104" cy="524.1" r="1.75"/><circle cx="107" cy="523.6" r="1.75"/><circle cx="109.3" cy="523.8" r="1.75"/><circle cx="101.6" cy="525.6" r="1.75"/><circle cx="104" cy="526" r="1.75"/><circle cx="106.2" cy="525.7" r="1.75"/><circle cx="109.4" cy="526.1" r="1.75"/><circle cx="100.3" cy="528.4" r="1.75"/><circle cx="103" cy="528.4" r="1.75"/><circle cx="105" cy="528.2" r="1.75"/><circle cx="107.7" cy="528.3" r="1.75"/><circle cx="110.3" cy="528.2" r="1.75"/><circle cx="101" cy="530.2" r="1.75"/><circle cx="103.9" cy="530.3" r="1.75"/><circle cx="107.1" cy="530.2" r="1.75"/><circle cx="109.5" cy="530.5" r="1.75"/><circle cx="102.9" cy="532.9" r="1.75"/><circle cx="105.3" cy="532.4" r="1.75"/><circle cx="107.7" cy="532.6" r="1.75"/><circle cx="103" cy="534.5" r="1.75"/><circle cx="105.2" cy="534.7" r="1.75"/><circle cx="107.2" cy="534.6" r="1.75"/><circle cx="103.8" cy="537.2" r="1.75"/><circle cx="106.9" cy="537" r="1.75"/><circle cx="103.8" cy="539.3" r="1.75"/><circle cx="106.6" cy="539.2" r="1.75"/><circle cx="104.6" cy="541.2" r="1.75"/><circle cx="105.8" cy="541.2" r="1.75"/><circle cx="105.2" cy="543.6" r="1.75"/></g>
<g fill="#fba040"><circle cx="105.3" cy="613.3" r="1.75"/></g>
<g fill="#fba040"><circle cx="154.4" cy="524.8" r="1.75"/><circle cx="154" cy="527.3" r="1.75"/><circle cx="156.3" cy="527.4" r="1.75"/><circle cx="153.5" cy="529.5" r="1.75"/><circle cx="157" cy="529.4" r="1.75"/><circle cx="153.1" cy="531.8" r="1.75"/><circle cx="154.7" cy="531.8" r="1.75"/><circle cx="157.1" cy="532" r="1.75"/><circle cx="152.1" cy="534.4" r="1.75"/><circle cx="155.2" cy="533.8" r="1.75"/><circle cx="157.6" cy="533.9" r="1.75"/><circle cx="151.1" cy="536.5" r="1.75"/><circle cx="153.9" cy="536.3" r="1.75"/><circle cx="156.5" cy="536.4" r="1.75"/><circle cx="159.1" cy="536.2" r="1.75"/><circle cx="150.8" cy="538.7" r="1.75"/><circle cx="153.3" cy="538.7" r="1.75"/><circle cx="156.1" cy="538.6" r="1.75"/><circle cx="159.4" cy="538.4" r="1.75"/><circle cx="150.2" cy="540.6" r="1.75"/><circle cx="152.8" cy="540.9" r="1.75"/><circle cx="155.1" cy="540.6" r="1.75"/><circle cx="157.4" cy="540.6" r="1.75"/><circle cx="160" cy="540.5" r="1.75"/><circle cx="151" cy="542.8" r="1.75"/><circle cx="153.5" cy="543.1" r="1.75"/><circle cx="156.6" cy="542.8" r="1.75"/><circle cx="159" cy="542.6" r="1.75"/><circle cx="151.1" cy="545.1" r="1.75"/><circle cx="153.8" cy="544.8" r="1.75"/><circle cx="156.5" cy="544.9" r="1.75"/><circle cx="158.9" cy="545.3" r="1.75"/><circle cx="150.3" cy="547.2" r="1.75"/><circle cx="153.8" cy="546.9" r="1.75"/><circle cx="156.2" cy="547.3" r="1.75"/><circle cx="159.4" cy="547.5" r="1.75"/><circle cx="151.4" cy="549.8" r="1.75"/><circle cx="153.8" cy="549.5" r="1.75"/><circle cx="156.3" cy="549.4" r="1.75"/><circle cx="158.5" cy="549.5" r="1.75"/><circle cx="153.1" cy="551.8" r="1.75"/><circle cx="155" cy="551.4" r="1.75"/><circle cx="157.2" cy="551.6" r="1.75"/><circle cx="153.5" cy="554.1" r="1.75"/><circle cx="156.9" cy="553.8" r="1.75"/><circle cx="154.2" cy="556.4" r="1.75"/><circle cx="155.8" cy="556.1" r="1.75"/><circle cx="154.6" cy="558.3" r="1.75"/></g>
<g fill="#fba040"><circle cx="155" cy="512.1" r="1.75"/><circle cx="155" cy="569.6" r="1.75"/><circle cx="155" cy="589" r="1.75"/></g>
<g fill="#fba040"><circle cx="205.2" cy="554.9" r="1.75"/><circle cx="203.4" cy="557.3" r="1.75"/><circle cx="206" cy="557.7" r="1.75"/><circle cx="202.6" cy="560" r="1.75"/><circle cx="204.5" cy="559.5" r="1.75"/><circle cx="206.8" cy="559.8" r="1.75"/><circle cx="201.3" cy="561.7" r="1.75"/><circle cx="204.7" cy="562" r="1.75"/><circle cx="207.6" cy="562.3" r="1.75"/><circle cx="200" cy="564.1" r="1.75"/><circle cx="203.4" cy="564" r="1.75"/><circle cx="206.2" cy="563.8" r="1.75"/><circle cx="208.7" cy="564.4" r="1.75"/><circle cx="200.3" cy="566.1" r="1.75"/><circle cx="203.1" cy="566.4" r="1.75"/><circle cx="205.9" cy="566.5" r="1.75"/><circle cx="209" cy="566.7" r="1.75"/><circle cx="200" cy="568.3" r="1.75"/><circle cx="202.1" cy="568.7" r="1.75"/><circle cx="204.3" cy="568.3" r="1.75"/><circle cx="206.6" cy="568.6" r="1.75"/><circle cx="209.4" cy="568.6" r="1.75"/><circle cx="200" cy="570.4" r="1.75"/><circle cx="203.4" cy="570.6" r="1.75"/><circle cx="206.2" cy="570.6" r="1.75"/><circle cx="208.6" cy="570.6" r="1.75"/><circle cx="202.3" cy="573" r="1.75"/><circle cx="204.5" cy="572.9" r="1.75"/><circle cx="207.1" cy="572.6" r="1.75"/><circle cx="201.8" cy="575.5" r="1.75"/><circle cx="204.6" cy="575.2" r="1.75"/><circle cx="207.3" cy="574.8" r="1.75"/><circle cx="202.8" cy="577.2" r="1.75"/><circle cx="204.9" cy="577.6" r="1.75"/><circle cx="206.5" cy="577.4" r="1.75"/><circle cx="203.5" cy="579.9" r="1.75"/><circle cx="205.6" cy="579.5" r="1.75"/><circle cx="204.3" cy="581.8" r="1.75"/><circle cx="205.1" cy="584.5" r="1.75"/></g>
<g fill="#fba040"><circle cx="255.1" cy="563" r="1.75"/><circle cx="254.3" cy="565.7" r="1.75"/><circle cx="254.3" cy="568.4" r="1.75"/><circle cx="254.4" cy="571.1" r="1.75"/><circle cx="254.2" cy="573.8" r="1.75"/><circle cx="254.6" cy="576.5" r="1.75"/><circle cx="254.2" cy="579.2" r="1.75"/><circle cx="254.1" cy="581.7" r="1.75"/><circle cx="255.4" cy="581.6" r="1.75"/><circle cx="253.3" cy="583.7" r="1.75"/><circle cx="256" cy="583.9" r="1.75"/><circle cx="253" cy="586" r="1.75"/><circle cx="256.4" cy="586.5" r="1.75"/><circle cx="252.1" cy="588.7" r="1.75"/><circle cx="254.9" cy="588.2" r="1.75"/><circle cx="257.2" cy="588.6" r="1.75"/><circle cx="251.4" cy="590.4" r="1.75"/><circle cx="253.8" cy="590.7" r="1.75"/><circle cx="255.7" cy="590.6" r="1.75"/><circle cx="258.1" cy="590.8" r="1.75"/><circle cx="251.3" cy="592.9" r="1.75"/><circle cx="253.4" cy="592.7" r="1.75"/><circle cx="256" cy="592.6" r="1.75"/><circle cx="258.7" cy="592.6" r="1.75"/><circle cx="250.4" cy="594.9" r="1.75"/><circle cx="253.4" cy="595" r="1.75"/><circle cx="256.3" cy="595.1" r="1.75"/><circle cx="258.9" cy="595" r="1.75"/><circle cx="250.7" cy="597.5" r="1.75"/><circle cx="253.3" cy="597.4" r="1.75"/><circle cx="255.7" cy="597.3" r="1.75"/><circle cx="258.4" cy="597.3" r="1.75"/><circle cx="250.3" cy="599.3" r="1.75"/><circle cx="253.2" cy="599.2" r="1.75"/><circle cx="256.2" cy="599.3" r="1.75"/><circle cx="258.7" cy="599.7" r="1.75"/><circle cx="250.2" cy="601.9" r="1.75"/><circle cx="252.1" cy="601.5" r="1.75"/><circle cx="254.4" cy="601.8" r="1.75"/><circle cx="257.2" cy="601.5" r="1.75"/><circle cx="259.4" cy="601.8" r="1.75"/><circle cx="249.9" cy="604.1" r="1.75"/><circle cx="252.3" cy="603.9" r="1.75"/><circle cx="254.5" cy="603.6" r="1.75"/><circle cx="257.3" cy="604" r="1.75"/><circle cx="259.5" cy="603.5" r="1.75"/><circle cx="251" cy="605.8" r="1.75"/><circle cx="253.4" cy="606" r="1.75"/><circle cx="255.5" cy="605.9" r="1.75"/><circle cx="258.3" cy="605.8" r="1.75"/><circle cx="250.2" cy="608.4" r="1.75"/><circle cx="252.3" cy="608.2" r="1.75"/><circle cx="254.8" cy="608.1" r="1.75"/><circle cx="256.6" cy="608.5" r="1.75"/><circle cx="259.4" cy="608.1" r="1.75"/><circle cx="251.9" cy="610.5" r="1.75"/><circle cx="254.4" cy="610.3" r="1.75"/><circle cx="257.5" cy="610.7" r="1.75"/><circle cx="251.9" cy="612.8" r="1.75"/><circle cx="254.4" cy="612.8" r="1.75"/><circle cx="257.7" cy="612.8" r="1.75"/><circle cx="250.8" cy="614.6" r="1.75"/><circle cx="253.7" cy="614.8" r="1.75"/><circle cx="256.3" cy="615" r="1.75"/><circle cx="258.7" cy="615.1" r="1.75"/><circle cx="251.4" cy="616.7" r="1.75"/><circle cx="254.8" cy="617" r="1.75"/><circle cx="257.9" cy="617.3" r="1.75"/><circle cx="252.5" cy="618.9" r="1.75"/><circle cx="254.8" cy="619.5" r="1.75"/><circle cx="256.9" cy="619.3" r="1.75"/><circle cx="251.7" cy="621.5" r="1.75"/><circle cx="254.5" cy="621.1" r="1.75"/><circle cx="257.7" cy="621.4" r="1.75"/><circle cx="252.5" cy="623.4" r="1.75"/><circle cx="254.8" cy="623.8" r="1.75"/><circle cx="256.5" cy="623.5" r="1.75"/><circle cx="252.6" cy="626.2" r="1.75"/><circle cx="254.6" cy="625.7" r="1.75"/><circle cx="257" cy="625.6" r="1.75"/><circle cx="252.8" cy="628.3" r="1.75"/><circle cx="256.6" cy="628.2" r="1.75"/><circle cx="253.5" cy="630.3" r="1.75"/><circle cx="256" cy="630.4" r="1.75"/><circle cx="253.1" cy="632.3" r="1.75"/><circle cx="255.9" cy="632.2" r="1.75"/><circle cx="253.8" cy="634.4" r="1.75"/><circle cx="255.6" cy="634.6" r="1.75"/><circle cx="254.5" cy="636.9" r="1.75"/><circle cx="254.5" cy="639.6" r="1.75"/><circle cx="254.2" cy="642.3" r="1.75"/></g>
<g fill="#fba040"><circle cx="305" cy="574.8" r="1.75"/><circle cx="303.9" cy="577.5" r="1.75"/><circle cx="305" cy="580.2" r="1.75"/><circle cx="303.9" cy="582.9" r="1.75"/><circle cx="304.3" cy="585.6" r="1.75"/><circle cx="304.5" cy="588.3" r="1.75"/><circle cx="304.9" cy="591" r="1.75"/><circle cx="304.6" cy="593.7" r="1.75"/><circle cx="304.6" cy="596.4" r="1.75"/><circle cx="302" cy="598.8" r="1.75"/><circle cx="304.1" cy="599.2" r="1.75"/><circle cx="306.9" cy="598.9" r="1.75"/><circle cx="301.6" cy="601.5" r="1.75"/><circle cx="304.7" cy="601" r="1.75"/><circle cx="307.5" cy="601.5" r="1.75"/><circle cx="299.7" cy="603.2" r="1.75"/><circle cx="303.1" cy="603.3" r="1.75"/><circle cx="305.8" cy="603.5" r="1.75"/><circle cx="308.9" cy="603.7" r="1.75"/><circle cx="300" cy="605.7" r="1.75"/><circle cx="303.1" cy="605.9" r="1.75"/><circle cx="305.9" cy="605.9" r="1.75"/><circle cx="308.7" cy="605.6" r="1.75"/><circle cx="299.7" cy="607.7" r="1.75"/><circle cx="303" cy="607.6" r="1.75"/><circle cx="306" cy="607.6" r="1.75"/><circle cx="308.8" cy="608.2" r="1.75"/><circle cx="300.3" cy="610" r="1.75"/><circle cx="302.9" cy="610.2" r="1.75"/><circle cx="305.3" cy="610.3" r="1.75"/><circle cx="308.4" cy="610.3" r="1.75"/><circle cx="299.9" cy="612.4" r="1.75"/><circle cx="303" cy="612.2" r="1.75"/><circle cx="305.7" cy="612.2" r="1.75"/><circle cx="308.8" cy="612.5" r="1.75"/><circle cx="299.1" cy="614.3" r="1.75"/><circle cx="301.8" cy="614.5" r="1.75"/><circle cx="304.3" cy="614.2" r="1.75"/><circle cx="306.7" cy="614.3" r="1.75"/><circle cx="309.5" cy="614.8" r="1.75"/><circle cx="299.6" cy="617" r="1.75"/><circle cx="302.2" cy="616.7" r="1.75"/><circle cx="304.6" cy="616.3" r="1.75"/><circle cx="307.1" cy="616.7" r="1.75"/><circle cx="309.4" cy="616.7" r="1.75"/><circle cx="299.2" cy="619" r="1.75"/><circle cx="301.7" cy="618.7" r="1.75"/><circle cx="304.7" cy="618.5" r="1.75"/><circle cx="306.8" cy="619" r="1.75"/><circle cx="309.5" cy="618.6" r="1.75"/><circle cx="300.1" cy="621.1" r="1.75"/><circle cx="302.9" cy="621.1" r="1.75"/><circle cx="305.8" cy="621" r="1.75"/><circle cx="308.3" cy="620.8" r="1.75"/><circle cx="300.5" cy="623" r="1.75"/><circle cx="303.3" cy="623.1" r="1.75"/><circle cx="305.4" cy="623.3" r="1.75"/><circle cx="308.2" cy="623.2" r="1.75"/><circle cx="301.4" cy="625.5" r="1.75"/><circle cx="304.1" cy="625.5" r="1.75"/><circle cx="307.3" cy="625.2" r="1.75"/><circle cx="301.9" cy="627.6" r="1.75"/><circle cx="304.7" cy="627.7" r="1.75"/><circle cx="306.7" cy="627.8" r="1.75"/><circle cx="302.9" cy="630" r="1.75"/><circle cx="306" cy="630.1" r="1.75"/><circle cx="302" cy="632.4" r="1.75"/><circle cx="304.4" cy="632.2" r="1.75"/><circle cx="306.3" cy="632.2" r="1.75"/><circle cx="302.4" cy="634.2" r="1.75"/><circle cx="305.9" cy="634.3" r="1.75"/><circle cx="302" cy="636.6" r="1.75"/><circle cx="304.3" cy="636.7" r="1.75"/><circle cx="306.8" cy="636.7" r="1.75"/><circle cx="301.1" cy="638.9" r="1.75"/><circle cx="303" cy="638.8" r="1.75"/><circle cx="305.5" cy="638.8" r="1.75"/><circle cx="308.1" cy="638.9" r="1.75"/><circle cx="301.4" cy="641" r="1.75"/><circle cx="304.7" cy="641" r="1.75"/><circle cx="307" cy="640.9" r="1.75"/><circle cx="301.5" cy="643.3" r="1.75"/><circle cx="304.1" cy="643.3" r="1.75"/><circle cx="307.4" cy="642.9" r="1.75"/><circle cx="301.3" cy="645.5" r="1.75"/><circle cx="304.5" cy="645" r="1.75"/><circle cx="307.1" cy="645" r="1.75"/><circle cx="300.5" cy="647.5" r="1.75"/><circle cx="303" cy="647.6" r="1.75"/><circle cx="305.5" cy="647.2" r="1.75"/><circle cx="308.3" cy="647.5" r="1.75"/><circle cx="302.5" cy="650" r="1.75"/><circle cx="304.1" cy="649.5" r="1.75"/><circle cx="306.3" cy="649.7" r="1.75"/><circle cx="302.4" cy="651.5" r="1.75"/><circle cx="304.2" cy="652.1" r="1.75"/><circle cx="306.8" cy="651.8" r="1.75"/><circle cx="302.2" cy="654.3" r="1.75"/><circle cx="306.3" cy="654.3" r="1.75"/><circle cx="302.1" cy="656.1" r="1.75"/><circle cx="304.2" cy="656.5" r="1.75"/><circle cx="306.5" cy="655.9" r="1.75"/><circle cx="303.2" cy="658.4" r="1.75"/><circle cx="305.5" cy="658.4" r="1.75"/><circle cx="303.8" cy="660.7" r="1.75"/><circle cx="304.2" cy="663.4" r="1.75"/><circle cx="304.4" cy="666.1" r="1.75"/></g>
<g fill="#0f73f0"><circle cx="123.6" cy="509.2" r="1.75"/><circle cx="123.6" cy="514.7" r="1.75"/><circle cx="121.3" cy="518.4" r="1.75"/><circle cx="125.9" cy="518.4" r="1.75"/><circle cx="119" cy="521" r="1.75"/><circle cx="122.5" cy="520.5" r="1.75"/><circle cx="126" cy="520.8" r="1.75"/><circle cx="129" cy="521.5" r="1.75"/><circle cx="120.5" cy="523" r="1.75"/><circle cx="124" cy="523.3" r="1.75"/><circle cx="127.5" cy="523" r="1.75"/><circle cx="117.6" cy="525.5" r="1.75"/><circle cx="129.8" cy="525.8" r="1.75"/><circle cx="121" cy="526.5" r="1.75"/><circle cx="126" cy="526.8" r="1.75"/><circle cx="118.7" cy="528.2" r="1.75"/><circle cx="128.9" cy="528" r="1.75"/><circle cx="123.6" cy="529" r="1.75"/><circle cx="123.6" cy="531.6" r="1.75"/><circle cx="123.6" cy="536.8" r="1.75"/></g>
<g fill="#0f73f0"><circle cx="173.8" cy="525.6" r="1.75"/><circle cx="171.2" cy="530.9" r="1.75"/><circle cx="173.8" cy="531.3" r="1.75"/><circle cx="170" cy="536.1" r="1.75"/><circle cx="176.5" cy="536.1" r="1.75"/><circle cx="168.6" cy="539.4" r="1.75"/><circle cx="173.8" cy="539.4" r="1.75"/><circle cx="179.1" cy="539.4" r="1.75"/><circle cx="170" cy="542" r="1.75"/><circle cx="176.5" cy="542" r="1.75"/><circle cx="168.6" cy="547.3" r="1.75"/><circle cx="173.8" cy="546.6" r="1.75"/><circle cx="179.1" cy="547.3" r="1.75"/><circle cx="171.2" cy="550" r="1.75"/><circle cx="176.5" cy="550" r="1.75"/><circle cx="168.6" cy="553.2" r="1.75"/><circle cx="173.8" cy="553.2" r="1.75"/><circle cx="179.1" cy="553.2" r="1.75"/><circle cx="171.2" cy="557.2" r="1.75"/><circle cx="176.5" cy="557.2" r="1.75"/><circle cx="173.8" cy="561.5" r="1.75"/></g>
<g fill="#0f73f0"><circle cx="223.6" cy="551" r="1.75"/><circle cx="222.1" cy="557" r="1.75"/><circle cx="224.3" cy="558.5" r="1.75"/><circle cx="220.6" cy="561.5" r="1.75"/><circle cx="225.8" cy="561" r="1.75"/><circle cx="218.5" cy="564.5" r="1.75"/><circle cx="222" cy="564" r="1.75"/><circle cx="226" cy="564.5" r="1.75"/><circle cx="228.8" cy="565.5" r="1.75"/><circle cx="219.5" cy="567.5" r="1.75"/><circle cx="223.5" cy="567.8" r="1.75"/><circle cx="227.5" cy="568" r="1.75"/><circle cx="218.5" cy="570.5" r="1.75"/><circle cx="222" cy="570.3" r="1.75"/><circle cx="226" cy="570.7" r="1.75"/><circle cx="220" cy="574" r="1.75"/><circle cx="225.8" cy="573.6" r="1.75"/><circle cx="222.9" cy="578.7" r="1.75"/></g>
<g fill="#0f73f0"><circle cx="273.2" cy="560.7" r="1.75"/><circle cx="273.4" cy="576.4" r="1.75"/><circle cx="270.5" cy="582.3" r="1.75"/><circle cx="275.8" cy="581.7" r="1.75"/><circle cx="268.8" cy="585.8" r="1.75"/><circle cx="272.3" cy="584.6" r="1.75"/><circle cx="276.4" cy="584" r="1.75"/><circle cx="271.1" cy="587.5" r="1.75"/><circle cx="275.2" cy="586.9" r="1.75"/><circle cx="268.2" cy="589.9" r="1.75"/><circle cx="272.3" cy="589.3" r="1.75"/><circle cx="276.4" cy="588.7" r="1.75"/><circle cx="278.7" cy="590.4" r="1.75"/><circle cx="270" cy="592.5" r="1.75"/><circle cx="276.5" cy="592.8" r="1.75"/><circle cx="268.8" cy="596.3" r="1.75"/><circle cx="272.8" cy="596.9" r="1.75"/><circle cx="277.5" cy="598" r="1.75"/><circle cx="270.5" cy="604.5" r="1.75"/><circle cx="275.2" cy="603.3" r="1.75"/><circle cx="272.8" cy="607.4" r="1.75"/><circle cx="274" cy="609.1" r="1.75"/><circle cx="272.3" cy="612" r="1.75"/><circle cx="273.4" cy="615" r="1.75"/><circle cx="273.4" cy="620.8" r="1.75"/></g>
<g fill="#0f73f0"><circle cx="318.4" cy="590.4" r="1.75"/><circle cx="323.1" cy="588.7" r="1.75"/><circle cx="328.3" cy="590.4" r="1.75"/><circle cx="320.7" cy="592.8" r="1.75"/><circle cx="325.4" cy="591.6" r="1.75"/><circle cx="320.5" cy="595.1" r="1.75"/><circle cx="325" cy="595.1" r="1.75"/><circle cx="318.4" cy="598" r="1.75"/><circle cx="323.7" cy="597.5" r="1.75"/><circle cx="320.7" cy="600.4" r="1.75"/><circle cx="325.4" cy="599.8" r="1.75"/><circle cx="323.7" cy="602.7" r="1.75"/><circle cx="319.6" cy="605" r="1.75"/><circle cx="324.3" cy="604.5" r="1.75"/><circle cx="318.4" cy="610.9" r="1.75"/><circle cx="321.9" cy="609.7" r="1.75"/><circle cx="326.6" cy="610.3" r="1.75"/><circle cx="318.4" cy="613.8" r="1.75"/><circle cx="323.1" cy="614.4" r="1.75"/><circle cx="320.7" cy="619.1" r="1.75"/><circle cx="324.8" cy="621.4" r="1.75"/><circle cx="320.2" cy="623.2" r="1.75"/><circle cx="323.7" cy="624.9" r="1.75"/><circle cx="320.7" cy="628.4" r="1.75"/><circle cx="325.4" cy="629" r="1.75"/><circle cx="321.3" cy="632.5" r="1.75"/></g>
<line x1="98.9" y1="528.3" x2="111.6" y2="528.3" stroke="#000" stroke-width="2.0"/>
<line x1="118" y1="524.6" x2="129.8" y2="524.6" stroke="#000" stroke-width="1.8"/>
<line x1="148.9" y1="542.7" x2="161.4" y2="542.7" stroke="#000" stroke-width="2.0"/>
<line x1="167.9" y1="544.3" x2="180.2" y2="544.3" stroke="#000" stroke-width="1.8"/>
<line x1="198.8" y1="568.5" x2="211.2" y2="568.5" stroke="#000" stroke-width="2.0"/>
<line x1="217.4" y1="567.4" x2="229.7" y2="567.4" stroke="#000" stroke-width="1.8"/>
<line x1="248.4" y1="601.3" x2="260.8" y2="601.3" stroke="#000" stroke-width="2.0"/>
<line x1="267.4" y1="594.3" x2="279.3" y2="594.3" stroke="#000" stroke-width="1.8"/>
<line x1="298.2" y1="622.4" x2="310.5" y2="622.4" stroke="#000" stroke-width="2.0"/>
<line x1="317.1" y1="608.1" x2="329.1" y2="608.1" stroke="#000" stroke-width="1.8"/>
<line x1="121" y1="522.8" x2="126.2" y2="522.8" stroke="#000" stroke-width="1.5"/>
<line x1="121" y1="526.4" x2="126.2" y2="526.4" stroke="#000" stroke-width="1.5"/>
<line x1="123.6" y1="522.8" x2="123.6" y2="526.4" stroke="#000" stroke-width="1.5"/>
<line x1="171.2" y1="541.9" x2="176.4" y2="541.9" stroke="#000" stroke-width="1.5"/>
<line x1="171.2" y1="546.7" x2="176.4" y2="546.7" stroke="#000" stroke-width="1.5"/>
<line x1="173.8" y1="541.9" x2="173.8" y2="546.7" stroke="#000" stroke-width="1.5"/>
<line x1="220.7" y1="565.6" x2="225.9" y2="565.6" stroke="#000" stroke-width="1.5"/>
<line x1="220.7" y1="569.2" x2="225.9" y2="569.2" stroke="#000" stroke-width="1.5"/>
<line x1="223.3" y1="565.6" x2="223.3" y2="569.2" stroke="#000" stroke-width="1.5"/>
<line x1="270.6" y1="592" x2="275.8" y2="592" stroke="#000" stroke-width="1.5"/>
<line x1="270.6" y1="596.6" x2="275.8" y2="596.6" stroke="#000" stroke-width="1.5"/>
<line x1="273.2" y1="592" x2="273.2" y2="596.6" stroke="#000" stroke-width="1.5"/>
<line x1="320.5" y1="605.4" x2="325.7" y2="605.4" stroke="#000" stroke-width="1.5"/>
<line x1="320.5" y1="610.8" x2="325.7" y2="610.8" stroke="#000" stroke-width="1.5"/>
<line x1="323.1" y1="605.4" x2="323.1" y2="610.8" stroke="#000" stroke-width="1.5"/>
<line x1="100.2" y1="495.4" x2="130.3" y2="495.4" stroke="#000" stroke-width="1.6"/>
<line x1="253.8" y1="550.6" x2="283.7" y2="550.6" stroke="#000" stroke-width="1.6"/>
<line x1="300.1" y1="563.2" x2="330.3" y2="563.2" stroke="#000" stroke-width="1.6"/>
<text x="115.2" y="499.8" font-size="17.5" font-weight="normal" font-style="normal" text-anchor="middle" fill="#000">*</text>
<text x="269" y="555" font-size="17.5" font-weight="normal" font-style="normal" text-anchor="middle" fill="#000">*</text>
<text x="315.3" y="567.5" font-size="17.5" font-weight="normal" font-style="normal" text-anchor="middle" fill="#000">**</text>
<text x="109" y="681.5" font-size="18" font-weight="bold" font-style="italic" text-anchor="start" fill="#fba040">BRAF</text>
<text x="161" y="673.7" font-size="13.5" font-weight="bold" font-style="italic" text-anchor="start" fill="#fba040">WT</text>
<text x="109" y="707" font-size="18" font-weight="bold" font-style="italic" text-anchor="start" fill="#0f73f0">BRAF</text>
<text x="161.5" y="699.4" font-size="13" font-weight="bold" font-style="italic" text-anchor="start" fill="#0f73f0">V600E</text>
<line x1="93.3" y1="435.1" x2="93.3" y2="709.5" stroke="#000" stroke-width="2.3"/>
<line x1="93.3" y1="708.4" x2="337" y2="708.4" stroke="#000" stroke-width="2.3"/>
<line x1="81.5" y1="436.2" x2="93.3" y2="436.2" stroke="#000" stroke-width="2.3"/>
<text x="78.5" y="443.1" font-size="19.5" font-weight="bold" font-style="normal" text-anchor="end" fill="#000">15</text>
<line x1="81.5" y1="504.3" x2="93.3" y2="504.3" stroke="#000" stroke-width="2.3"/>
<text x="78.5" y="511.1" font-size="19.5" font-weight="bold" font-style="normal" text-anchor="end" fill="#000">10</text>
<line x1="81.5" y1="572.4" x2="93.3" y2="572.4" stroke="#000" stroke-width="2.3"/>
<text x="78.5" y="579.2" font-size="19.5" font-weight="bold" font-style="normal" text-anchor="end" fill="#000">5</text>
<line x1="81.5" y1="640.4" x2="93.3" y2="640.4" stroke="#000" stroke-width="2.3"/>
<text x="78.5" y="647.2" font-size="19.5" font-weight="bold" font-style="normal" text-anchor="end" fill="#000">0</text>
<line x1="81.5" y1="708.4" x2="93.3" y2="708.4" stroke="#000" stroke-width="2.3"/>
<text x="78.5" y="715.3" font-size="19.5" font-weight="bold" font-style="normal" text-anchor="end" fill="#000">-5</text>
<line x1="114.3" y1="708.4" x2="114.3" y2="713.4" stroke="#000" stroke-width="2.3"/>
<line x1="164.1" y1="708.4" x2="164.1" y2="713.4" stroke="#000" stroke-width="2.3"/>
<line x1="213.9" y1="708.4" x2="213.9" y2="713.4" stroke="#000" stroke-width="2.3"/>
<line x1="263.7" y1="708.4" x2="263.7" y2="713.4" stroke="#000" stroke-width="2.3"/>
<line x1="313.5" y1="708.4" x2="313.5" y2="713.4" stroke="#000" stroke-width="2.3"/>
<text x="0" y="0" font-size="20" font-weight="bold" font-style="italic" text-anchor="end" fill="#000" transform="translate(117.9 733.4) rotate(-45) scale(0.96 1.14) skewX(-3)">MCL1</text>
<text x="0" y="0" font-size="20" font-weight="bold" font-style="italic" text-anchor="end" fill="#000" transform="translate(167.7 733.4) rotate(-45) scale(0.96 1.14) skewX(-3)">BCL2L1</text>
<text x="0" y="0" font-size="20" font-weight="bold" font-style="italic" text-anchor="end" fill="#000" transform="translate(217.5 733.4) rotate(-45) scale(0.96 1.14) skewX(-3)">BCL2L2</text>
<text x="0" y="0" font-size="20" font-weight="bold" font-style="italic" text-anchor="end" fill="#000" transform="translate(267.3 733.4) rotate(-45) scale(0.96 1.14) skewX(-3)">BCL2</text>
<text x="0" y="0" font-size="20" font-weight="bold" font-style="italic" text-anchor="end" fill="#000" transform="translate(317.1 733.4) rotate(-45) scale(0.96 1.14) skewX(-3)">BCL2A1</text>
<text x="0" y="0" font-size="31.5" font-weight="bold" text-anchor="start" fill="#000" stroke="#000" stroke-width="0.5" transform="translate(335.5 399.6) scale(0.86 1.0)">D</text>
<line x1="445" y1="443.1" x2="445" y2="708.8" stroke="#000" stroke-width="2.3"/>
<line x1="445" y1="707.6" x2="681.8" y2="707.6" stroke="#000" stroke-width="2.3"/>
<line x1="434.1" y1="444.2" x2="445" y2="444.2" stroke="#000" stroke-width="2.3"/>
<text x="430.1" y="451.2" font-size="20" font-weight="bold" font-style="normal" text-anchor="end" fill="#000">500</text>
<line x1="434.1" y1="496.9" x2="445" y2="496.9" stroke="#000" stroke-width="2.3"/>
<text x="430.1" y="503.9" font-size="20" font-weight="bold" font-style="normal" text-anchor="end" fill="#000">400</text>
<line x1="434.1" y1="549.6" x2="445" y2="549.6" stroke="#000" stroke-width="2.3"/>
<text x="430.1" y="556.6" font-size="20" font-weight="bold" font-style="normal" text-anchor="end" fill="#000">300</text>
<line x1="434.1" y1="602.2" x2="445" y2="602.2" stroke="#000" stroke-width="2.3"/>
<text x="430.1" y="609.2" font-size="20" font-weight="bold" font-style="normal" text-anchor="end" fill="#000">200</text>
<line x1="434.1" y1="654.9" x2="445" y2="654.9" stroke="#000" stroke-width="2.3"/>
<text x="430.1" y="661.9" font-size="20" font-weight="bold" font-style="normal" text-anchor="end" fill="#000">100</text>
<line x1="434.1" y1="707.6" x2="445" y2="707.6" stroke="#000" stroke-width="2.3"/>
<text x="430.1" y="714.6" font-size="20" font-weight="bold" font-style="normal" text-anchor="end" fill="#000">0</text>
<line x1="465.6" y1="707.6" x2="465.6" y2="712.6" stroke="#000" stroke-width="2.3"/>
<line x1="513.9" y1="707.6" x2="513.9" y2="712.6" stroke="#000" stroke-width="2.3"/>
<line x1="562.2" y1="707.6" x2="562.2" y2="712.6" stroke="#000" stroke-width="2.3"/>
<line x1="610.5" y1="707.6" x2="610.5" y2="712.6" stroke="#000" stroke-width="2.3"/>
<line x1="658.8" y1="707.6" x2="658.8" y2="712.6" stroke="#000" stroke-width="2.3"/>
<text x="386" y="576" font-size="21.7" font-weight="bold" font-style="normal" text-anchor="middle" fill="#000" transform="rotate(-90 386 576)">mRNA Expression (FPKM)</text>
<g fill="#f79c3f"><circle cx="457.2" cy="634.5" r="1.7"/><circle cx="457.2" cy="652.1" r="1.7"/><circle cx="457.2" cy="655.4" r="1.7"/><circle cx="457.2" cy="661.6" r="1.7"/><circle cx="456.5" cy="664" r="1.7"/><circle cx="457.5" cy="666.8" r="1.7"/></g>
<g fill="#f79c3f"><circle cx="455.7" cy="669" r="1.7"/><circle cx="458.5" cy="669" r="1.7"/><circle cx="455.8" cy="671.2" r="1.7"/><circle cx="458.7" cy="671.4" r="1.7"/><circle cx="455.7" cy="673.3" r="1.7"/><circle cx="459" cy="673.8" r="1.7"/><circle cx="455.6" cy="675.9" r="1.7"/><circle cx="459.1" cy="675.7" r="1.7"/><circle cx="455.9" cy="678.3" r="1.7"/><circle cx="459" cy="678.1" r="1.7"/><circle cx="455.9" cy="680.4" r="1.7"/><circle cx="458.7" cy="680.3" r="1.7"/><circle cx="455.8" cy="682.3" r="1.7"/><circle cx="458.4" cy="682.3" r="1.7"/><circle cx="456.1" cy="684.6" r="1.7"/><circle cx="458.5" cy="684.4" r="1.7"/><circle cx="455.8" cy="686.5" r="1.7"/><circle cx="458.2" cy="687.1" r="1.7"/><circle cx="455.8" cy="689" r="1.7"/><circle cx="458.4" cy="688.8" r="1.7"/><circle cx="456" cy="691.1" r="1.7"/><circle cx="458.4" cy="691.2" r="1.7"/></g>
<g fill="#1670ee"><circle cx="475.2" cy="464.7" r="1.7"/><circle cx="475.2" cy="621.3" r="1.7"/><circle cx="475.2" cy="625.5" r="1.7"/><circle cx="475.2" cy="635.6" r="1.7"/><circle cx="475.2" cy="658.2" r="1.7"/><circle cx="470.5" cy="674.6" r="1.7"/><circle cx="475.2" cy="676.8" r="1.7"/><circle cx="480.1" cy="675.8" r="1.7"/><circle cx="470.5" cy="682.5" r="1.7"/><circle cx="475.2" cy="681.2" r="1.7"/><circle cx="480.1" cy="681.8" r="1.7"/></g>
<g fill="#f79c3f"><circle cx="505.5" cy="547.5" r="1.7"/><circle cx="505.5" cy="574.2" r="1.7"/><circle cx="505.5" cy="578.5" r="1.7"/><circle cx="505.3" cy="604.9" r="1.7"/><circle cx="505.3" cy="615" r="1.7"/><circle cx="505.3" cy="623" r="1.7"/><circle cx="505.3" cy="629.2" r="1.7"/><circle cx="504" cy="633.4" r="1.7"/><circle cx="506.6" cy="633.4" r="1.7"/><circle cx="505.3" cy="636.5" r="1.7"/><circle cx="504" cy="640.8" r="1.7"/><circle cx="506.5" cy="640.8" r="1.7"/><circle cx="502" cy="645.8" r="1.7"/><circle cx="504.9" cy="646.6" r="1.7"/><circle cx="507.3" cy="647" r="1.7"/><circle cx="510.2" cy="645.8" r="1.7"/><circle cx="502.4" cy="648.2" r="1.7"/><circle cx="508.2" cy="648.2" r="1.7"/><circle cx="505.7" cy="651.5" r="1.7"/><circle cx="504" cy="654.4" r="1.7"/><circle cx="506.9" cy="654.4" r="1.7"/><circle cx="503.6" cy="658.5" r="1.7"/><circle cx="507.3" cy="658.5" r="1.7"/><circle cx="503.6" cy="663.9" r="1.7"/><circle cx="506.9" cy="663.9" r="1.7"/><circle cx="506.9" cy="668.4" r="1.7"/><circle cx="503.6" cy="670" r="1.7"/><circle cx="505.7" cy="671.3" r="1.7"/><circle cx="507.9" cy="671.7" r="1.7"/><circle cx="502.4" cy="675.4" r="1.7"/><circle cx="504.9" cy="676.6" r="1.7"/><circle cx="508.2" cy="677.9" r="1.7"/><circle cx="502.4" cy="678.3" r="1.7"/><circle cx="505.7" cy="678.7" r="1.7"/><circle cx="505.3" cy="682.8" r="1.7"/><circle cx="507" cy="682.8" r="1.7"/><circle cx="505.3" cy="687.7" r="1.7"/><circle cx="505.3" cy="690.6" r="1.7"/><circle cx="503.2" cy="694.3" r="1.7"/><circle cx="507.3" cy="694.3" r="1.7"/><circle cx="505.3" cy="696.8" r="1.7"/><circle cx="503.6" cy="700.9" r="1.7"/><circle cx="506.5" cy="700.1" r="1.7"/></g>
<g fill="#1670ee"><circle cx="523.5" cy="550.8" r="1.7"/><circle cx="523.5" cy="599.2" r="1.7"/><circle cx="523.4" cy="611.1" r="1.7"/><circle cx="523.4" cy="620.9" r="1.7"/><circle cx="523.4" cy="631.3" r="1.7"/><circle cx="523.4" cy="657.1" r="1.7"/><circle cx="520.9" cy="672.1" r="1.7"/><circle cx="526.5" cy="671.3" r="1.7"/><circle cx="523.4" cy="693" r="1.7"/><circle cx="523.4" cy="702.4" r="1.7"/></g>
<g fill="#f79c3f"><circle cx="550" cy="705.3" r="1.7"/><circle cx="552.5" cy="705.3" r="1.7"/><circle cx="555" cy="705.3" r="1.7"/><circle cx="557.5" cy="705.3" r="1.7"/><circle cx="560" cy="705.3" r="1.7"/><circle cx="550.5" cy="703" r="1.7"/><circle cx="553.1" cy="703" r="1.7"/><circle cx="555.7" cy="703" r="1.7"/><circle cx="558.3" cy="703" r="1.7"/><circle cx="551.5" cy="700.8" r="1.7"/><circle cx="554" cy="700.8" r="1.7"/><circle cx="556.5" cy="700.8" r="1.7"/><circle cx="554" cy="699.2" r="1.7"/></g>
<g fill="#1670ee"><circle cx="567.8" cy="703.6" r="1.7"/><circle cx="570.8" cy="703.6" r="1.7"/><circle cx="573.8" cy="703.6" r="1.7"/><circle cx="576.8" cy="703.6" r="1.7"/><circle cx="568.5" cy="701" r="1.7"/><circle cx="571.4" cy="701" r="1.7"/><circle cx="574.3" cy="701" r="1.7"/><circle cx="577.2" cy="701" r="1.7"/><circle cx="570.5" cy="698.9" r="1.7"/><circle cx="573.8" cy="698.6" r="1.7"/><circle cx="576.5" cy="699.3" r="1.7"/></g>
<g fill="#f79c3f"><circle cx="597.8" cy="706.6" r="1.7"/><circle cx="600.3" cy="706.6" r="1.7"/><circle cx="602.8" cy="706.6" r="1.7"/><circle cx="605.3" cy="706.6" r="1.7"/><circle cx="607.8" cy="706.6" r="1.7"/><circle cx="600" cy="705" r="1.7"/><circle cx="602.2" cy="704.8" r="1.7"/><circle cx="604.5" cy="705.2" r="1.7"/><circle cx="602.2" cy="703.2" r="1.7"/></g>
<g fill="#1670ee"><circle cx="616.4" cy="704.5" r="1.7"/><circle cx="615.5" cy="706.8" r="1.7"/><circle cx="618.5" cy="706.8" r="1.7"/><circle cx="621.5" cy="706.8" r="1.7"/><circle cx="624.5" cy="706.8" r="1.7"/></g>
<g fill="#f79c3f"><circle cx="645" cy="706.2" r="1.7"/><circle cx="648" cy="706.2" r="1.7"/><circle cx="651" cy="706.2" r="1.7"/><circle cx="654" cy="706.2" r="1.7"/><circle cx="650" cy="704.5" r="1.7"/></g>
<g fill="#1670ee"><circle cx="668.6" cy="700.9" r="1.7"/><circle cx="663.5" cy="706.8" r="1.7"/><circle cx="666.5" cy="706.8" r="1.7"/><circle cx="669.5" cy="706.8" r="1.7"/><circle cx="672.5" cy="706.8" r="1.7"/></g>
<line x1="451.2" y1="676.3" x2="463" y2="676.3" stroke="#000" stroke-width="1.9"/>
<line x1="453.5" y1="674.2" x2="460.5" y2="674.2" stroke="#000" stroke-width="1.6"/>
<line x1="453.5" y1="678.5" x2="460.5" y2="678.5" stroke="#000" stroke-width="1.6"/>
<line x1="469.2" y1="643.5" x2="481.1" y2="643.5" stroke="#000" stroke-width="1.7"/>
<line x1="472.5" y1="624" x2="478" y2="624" stroke="#000" stroke-width="1.7"/>
<line x1="472.5" y1="662.5" x2="478" y2="662.5" stroke="#000" stroke-width="1.7"/>
<line x1="475.2" y1="624" x2="475.2" y2="662.5" stroke="#000" stroke-width="1.7"/>
<line x1="499.6" y1="655.7" x2="511.1" y2="655.7" stroke="#000" stroke-width="1.7"/>
<line x1="501.8" y1="650.8" x2="508.1" y2="650.8" stroke="#000" stroke-width="1.7"/>
<line x1="501.8" y1="659.9" x2="508.1" y2="659.9" stroke="#000" stroke-width="1.7"/>
<line x1="505.3" y1="650.8" x2="505.3" y2="659.9" stroke="#000" stroke-width="1.7"/>
<line x1="517.9" y1="639.7" x2="529.7" y2="639.7" stroke="#000" stroke-width="1.7"/>
<line x1="521.3" y1="626.2" x2="526.5" y2="626.2" stroke="#000" stroke-width="1.7"/>
<line x1="521.3" y1="652.9" x2="526.5" y2="652.9" stroke="#000" stroke-width="1.7"/>
<line x1="523.4" y1="626.2" x2="523.4" y2="652.9" stroke="#000" stroke-width="1.7"/>
<line x1="548.5" y1="703.5" x2="560" y2="703.5" stroke="#000" stroke-width="1.4"/>
<line x1="566.5" y1="701.7" x2="578" y2="701.7" stroke="#000" stroke-width="1.6"/>
<line x1="450.9" y1="451.9" x2="480.3" y2="451.9" stroke="#000" stroke-width="1.6"/>
<line x1="549" y1="684.9" x2="578" y2="684.9" stroke="#000" stroke-width="1.6"/>
<line x1="644.4" y1="690.8" x2="673.9" y2="690.8" stroke="#000" stroke-width="1.6"/>
<text x="467" y="455.2" font-size="17.5" font-weight="normal" font-style="normal" text-anchor="middle" fill="#000">**</text>
<text x="563.5" y="688.5" font-size="17.5" font-weight="normal" font-style="normal" text-anchor="middle" fill="#000">*</text>
<text x="660.5" y="691.5" font-size="17.5" font-weight="normal" font-style="normal" text-anchor="middle" fill="#000">*</text>
<text x="0" y="0" font-size="20" font-weight="bold" font-style="italic" text-anchor="end" fill="#000" transform="translate(469.2 732.6) rotate(-45) scale(0.96 1.14) skewX(-3)">MCL1</text>
<text x="0" y="0" font-size="20" font-weight="bold" font-style="italic" text-anchor="end" fill="#000" transform="translate(517.5 732.6) rotate(-45) scale(0.96 1.14) skewX(-3)">BCL2L1</text>
<text x="0" y="0" font-size="20" font-weight="bold" font-style="italic" text-anchor="end" fill="#000" transform="translate(565.8 732.6) rotate(-45) scale(0.96 1.14) skewX(-3)">BCL2L2</text>
<text x="0" y="0" font-size="20" font-weight="bold" font-style="italic" text-anchor="end" fill="#000" transform="translate(614.1 732.6) rotate(-45) scale(0.96 1.14) skewX(-3)">BCL2</text>
<text x="0" y="0" font-size="20" font-weight="bold" font-style="italic" text-anchor="end" fill="#000" transform="translate(662.4 732.6) rotate(-45) scale(0.96 1.14) skewX(-3)">BCL2A1</text>
</svg></body></html>
